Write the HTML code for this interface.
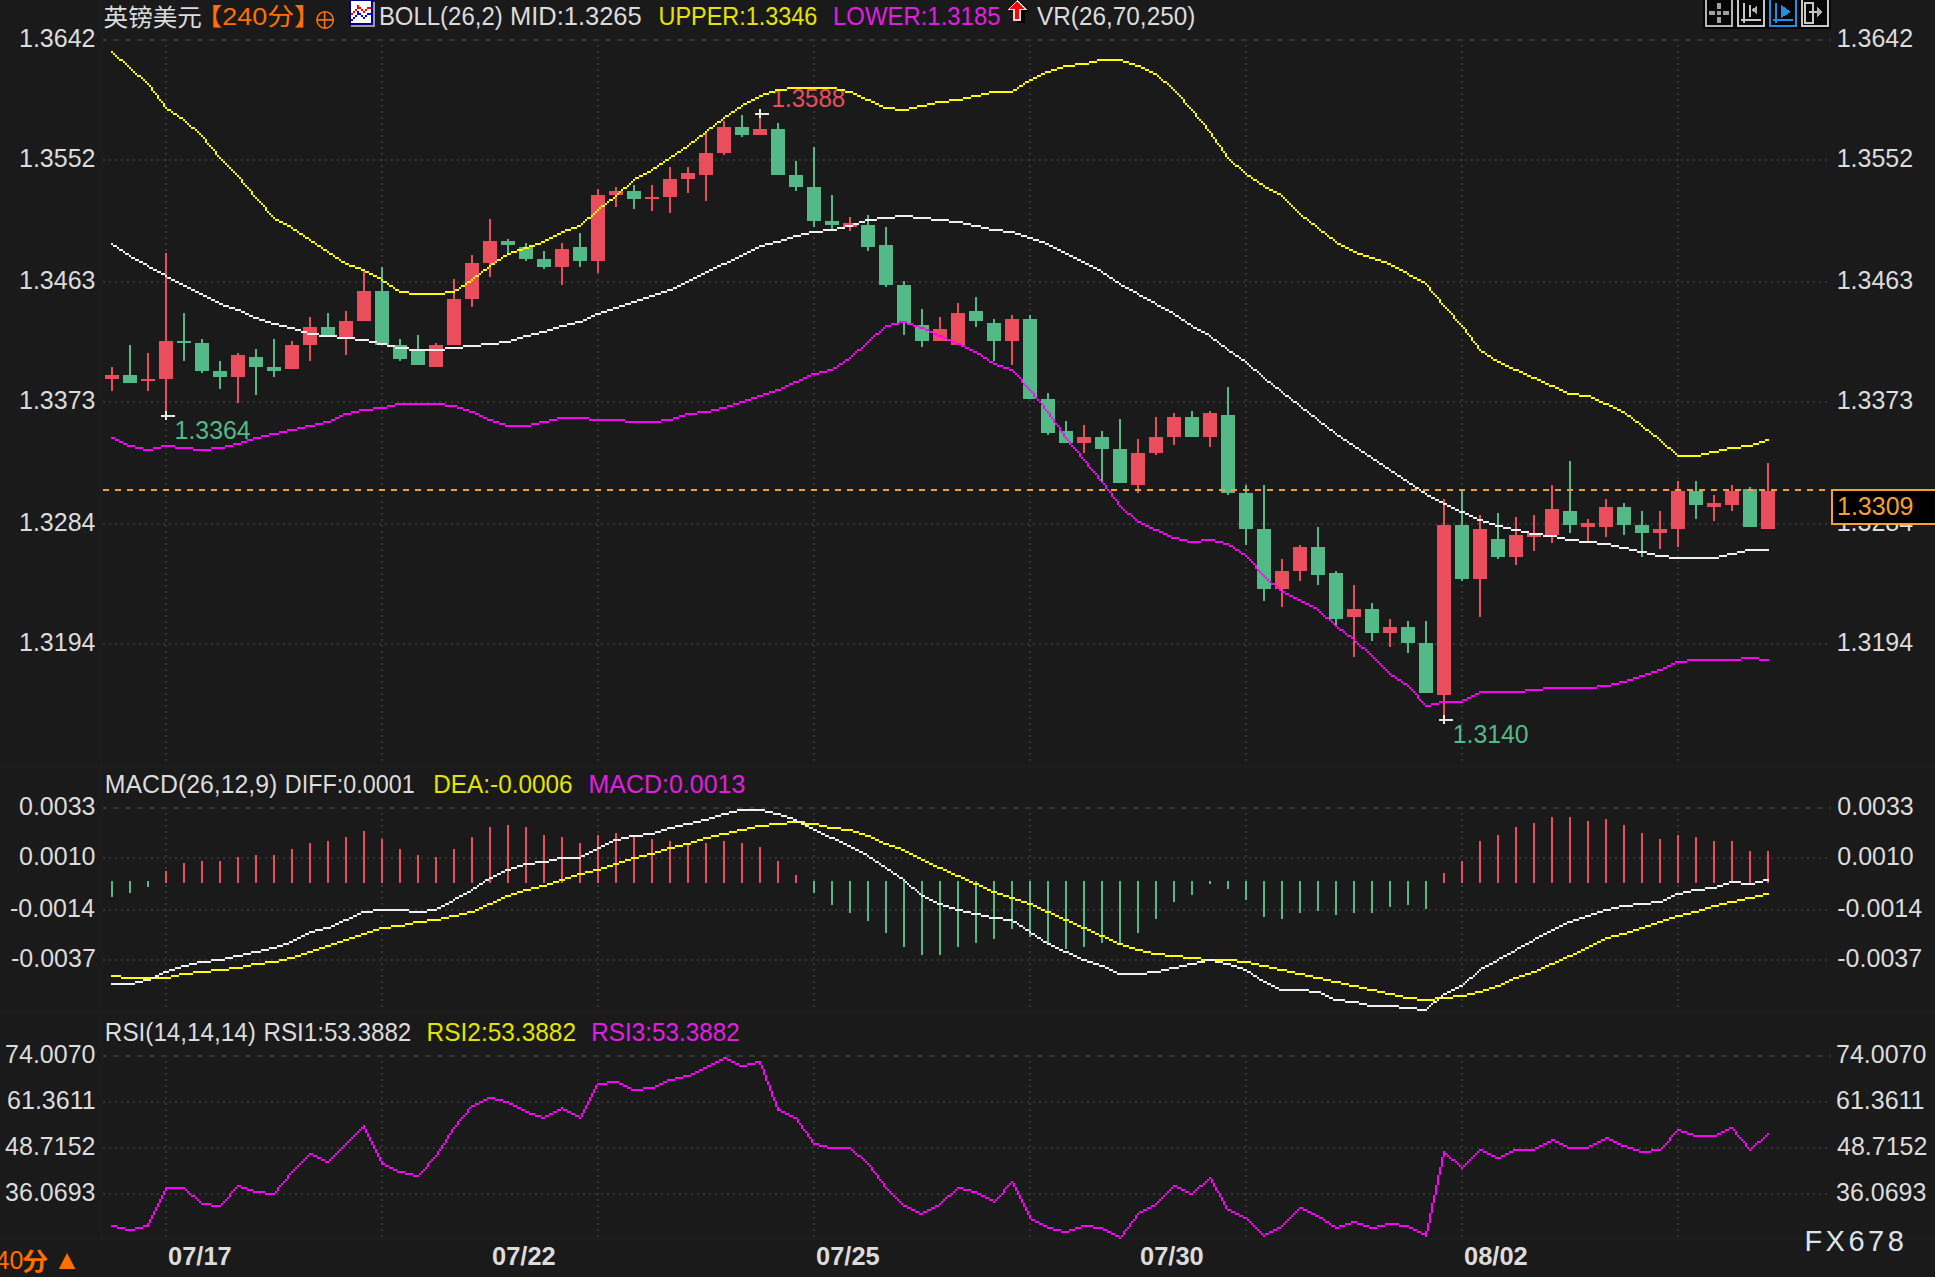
<!DOCTYPE html><html><head><meta charset="utf-8"><title>GBPUSD</title><style>html,body{margin:0;padding:0;background:#1a1a1a;}body{width:1935px;height:1277px;overflow:hidden;position:relative;}svg{position:absolute;left:0;top:0;display:block;}text{font-family:"Liberation Sans","Noto Sans CJK SC",sans-serif;white-space:pre;}</style></head><body>
<svg width="1935" height="1277" viewBox="0 0 1935 1277">
<rect width="1935" height="1277" fill="#1a1a1a"/>
<g fill="#1e1e1e">
<rect x="101" y="0" width="1" height="1239"/>
<rect x="0" y="765" width="1935" height="2"/>
<rect x="0" y="1011" width="1935" height="2"/>
<rect x="0" y="1238" width="1935" height="2"/>
</g>
<g shape-rendering="crispEdges">
<path d="M103 40H1831" stroke="#353535" stroke-width="2" stroke-dasharray="6 6" stroke-dashoffset="2"/>
<path d="M103 160H1831" stroke="#353535" stroke-width="2" stroke-dasharray="2 4"/>
<path d="M103 282H1831" stroke="#353535" stroke-width="2" stroke-dasharray="2 4"/>
<path d="M103 402H1831" stroke="#353535" stroke-width="2" stroke-dasharray="2 4"/>
<path d="M103 524H1831" stroke="#353535" stroke-width="2" stroke-dasharray="2 4"/>
<path d="M103 644H1831" stroke="#353535" stroke-width="2" stroke-dasharray="2 4"/>
<path d="M103 808H1831" stroke="#353535" stroke-width="2" stroke-dasharray="6 6" stroke-dashoffset="2"/>
<path d="M103 858H1831" stroke="#353535" stroke-width="2" stroke-dasharray="2 4"/>
<path d="M103 910H1831" stroke="#353535" stroke-width="2" stroke-dasharray="2 4"/>
<path d="M103 960H1831" stroke="#353535" stroke-width="2" stroke-dasharray="2 4"/>
<path d="M103 1056H1831" stroke="#353535" stroke-width="2" stroke-dasharray="6 6" stroke-dashoffset="2"/>
<path d="M103 1102H1831" stroke="#353535" stroke-width="2" stroke-dasharray="2 4"/>
<path d="M103 1148H1831" stroke="#353535" stroke-width="2" stroke-dasharray="2 4"/>
<path d="M103 1194H1831" stroke="#353535" stroke-width="2" stroke-dasharray="2 4"/>
<path d="M166 45V761" stroke="#353535" stroke-width="2" stroke-dasharray="2 4"/>
<path d="M166 813V1007" stroke="#353535" stroke-width="2" stroke-dasharray="2 4"/>
<path d="M166 1061V1237" stroke="#353535" stroke-width="2" stroke-dasharray="2 4"/>
<path d="M382 45V761" stroke="#353535" stroke-width="2" stroke-dasharray="2 4"/>
<path d="M382 813V1007" stroke="#353535" stroke-width="2" stroke-dasharray="2 4"/>
<path d="M382 1061V1237" stroke="#353535" stroke-width="2" stroke-dasharray="2 4"/>
<path d="M598 45V761" stroke="#353535" stroke-width="2" stroke-dasharray="2 4"/>
<path d="M598 813V1007" stroke="#353535" stroke-width="2" stroke-dasharray="2 4"/>
<path d="M598 1061V1237" stroke="#353535" stroke-width="2" stroke-dasharray="2 4"/>
<path d="M814 45V761" stroke="#353535" stroke-width="2" stroke-dasharray="2 4"/>
<path d="M814 813V1007" stroke="#353535" stroke-width="2" stroke-dasharray="2 4"/>
<path d="M814 1061V1237" stroke="#353535" stroke-width="2" stroke-dasharray="2 4"/>
<path d="M1030 45V761" stroke="#353535" stroke-width="2" stroke-dasharray="2 4"/>
<path d="M1030 813V1007" stroke="#353535" stroke-width="2" stroke-dasharray="2 4"/>
<path d="M1030 1061V1237" stroke="#353535" stroke-width="2" stroke-dasharray="2 4"/>
<path d="M1246 45V761" stroke="#353535" stroke-width="2" stroke-dasharray="2 4"/>
<path d="M1246 813V1007" stroke="#353535" stroke-width="2" stroke-dasharray="2 4"/>
<path d="M1246 1061V1237" stroke="#353535" stroke-width="2" stroke-dasharray="2 4"/>
<path d="M1462 45V761" stroke="#353535" stroke-width="2" stroke-dasharray="2 4"/>
<path d="M1462 813V1007" stroke="#353535" stroke-width="2" stroke-dasharray="2 4"/>
<path d="M1462 1061V1237" stroke="#353535" stroke-width="2" stroke-dasharray="2 4"/>
<path d="M1678 45V761" stroke="#353535" stroke-width="2" stroke-dasharray="2 4"/>
<path d="M1678 813V1007" stroke="#353535" stroke-width="2" stroke-dasharray="2 4"/>
<path d="M1678 1061V1237" stroke="#353535" stroke-width="2" stroke-dasharray="2 4"/>
</g>
<text x="771.57" y="107.00" fill="#ea4e5c" font-size="25" font-weight="normal" textLength="73.68" lengthAdjust="spacingAndGlyphs">1.3588</text>
<text x="174.61" y="439.40" fill="#53b987" font-size="25" font-weight="normal" textLength="76.06" lengthAdjust="spacingAndGlyphs">1.3364</text>
<text x="1452.82" y="742.80" fill="#53b987" font-size="25" font-weight="normal" textLength="75.85" lengthAdjust="spacingAndGlyphs">1.3140</text>
<g shape-rendering="crispEdges">
<rect x="111" y="367" width="2" height="24" fill="#ea4e5c"/>
<rect x="105" y="375" width="14" height="4" fill="#ea4e5c"/>
<rect x="129" y="345" width="2" height="38" fill="#53b987"/>
<rect x="123" y="375" width="14" height="8" fill="#53b987"/>
<rect x="147" y="353" width="2" height="38" fill="#ea4e5c"/>
<rect x="141" y="379" width="14" height="2" fill="#ea4e5c"/>
<rect x="165" y="253" width="2" height="164" fill="#ea4e5c"/>
<rect x="159" y="341" width="14" height="38" fill="#ea4e5c"/>
<rect x="183" y="313" width="2" height="48" fill="#53b987"/>
<rect x="177" y="341" width="14" height="2" fill="#53b987"/>
<rect x="201" y="339" width="2" height="34" fill="#53b987"/>
<rect x="195" y="343" width="14" height="28" fill="#53b987"/>
<rect x="219" y="361" width="2" height="28" fill="#53b987"/>
<rect x="213" y="371" width="14" height="6" fill="#53b987"/>
<rect x="237" y="353" width="2" height="50" fill="#ea4e5c"/>
<rect x="231" y="355" width="14" height="22" fill="#ea4e5c"/>
<rect x="255" y="349" width="2" height="46" fill="#53b987"/>
<rect x="249" y="357" width="14" height="10" fill="#53b987"/>
<rect x="273" y="339" width="2" height="38" fill="#53b987"/>
<rect x="267" y="367" width="14" height="4" fill="#53b987"/>
<rect x="291" y="341" width="2" height="28" fill="#ea4e5c"/>
<rect x="285" y="345" width="14" height="24" fill="#ea4e5c"/>
<rect x="309" y="317" width="2" height="44" fill="#ea4e5c"/>
<rect x="303" y="327" width="14" height="18" fill="#ea4e5c"/>
<rect x="327" y="313" width="2" height="22" fill="#53b987"/>
<rect x="321" y="327" width="14" height="8" fill="#53b987"/>
<rect x="345" y="311" width="2" height="44" fill="#ea4e5c"/>
<rect x="339" y="321" width="14" height="18" fill="#ea4e5c"/>
<rect x="363" y="271" width="2" height="50" fill="#ea4e5c"/>
<rect x="357" y="291" width="14" height="30" fill="#ea4e5c"/>
<rect x="381" y="267" width="2" height="78" fill="#53b987"/>
<rect x="375" y="291" width="14" height="54" fill="#53b987"/>
<rect x="399" y="339" width="2" height="22" fill="#53b987"/>
<rect x="393" y="345" width="14" height="14" fill="#53b987"/>
<rect x="417" y="335" width="2" height="30" fill="#53b987"/>
<rect x="411" y="351" width="14" height="14" fill="#53b987"/>
<rect x="435" y="343" width="2" height="24" fill="#ea4e5c"/>
<rect x="429" y="345" width="14" height="22" fill="#ea4e5c"/>
<rect x="453" y="279" width="2" height="66" fill="#ea4e5c"/>
<rect x="447" y="299" width="14" height="46" fill="#ea4e5c"/>
<rect x="471" y="255" width="2" height="52" fill="#ea4e5c"/>
<rect x="465" y="263" width="14" height="36" fill="#ea4e5c"/>
<rect x="489" y="219" width="2" height="58" fill="#ea4e5c"/>
<rect x="483" y="241" width="14" height="22" fill="#ea4e5c"/>
<rect x="507" y="239" width="2" height="16" fill="#53b987"/>
<rect x="501" y="241" width="14" height="4" fill="#53b987"/>
<rect x="525" y="243" width="2" height="18" fill="#53b987"/>
<rect x="519" y="247" width="14" height="12" fill="#53b987"/>
<rect x="543" y="251" width="2" height="18" fill="#53b987"/>
<rect x="537" y="259" width="14" height="8" fill="#53b987"/>
<rect x="561" y="243" width="2" height="42" fill="#ea4e5c"/>
<rect x="555" y="249" width="14" height="18" fill="#ea4e5c"/>
<rect x="579" y="233" width="2" height="34" fill="#53b987"/>
<rect x="573" y="247" width="14" height="14" fill="#53b987"/>
<rect x="597" y="189" width="2" height="84" fill="#ea4e5c"/>
<rect x="591" y="195" width="14" height="66" fill="#ea4e5c"/>
<rect x="615" y="187" width="2" height="20" fill="#ea4e5c"/>
<rect x="609" y="191" width="14" height="4" fill="#ea4e5c"/>
<rect x="633" y="185" width="2" height="24" fill="#53b987"/>
<rect x="627" y="191" width="14" height="8" fill="#53b987"/>
<rect x="651" y="185" width="2" height="26" fill="#ea4e5c"/>
<rect x="645" y="197" width="14" height="2" fill="#ea4e5c"/>
<rect x="669" y="167" width="2" height="46" fill="#ea4e5c"/>
<rect x="663" y="179" width="14" height="18" fill="#ea4e5c"/>
<rect x="687" y="167" width="2" height="26" fill="#ea4e5c"/>
<rect x="681" y="173" width="14" height="6" fill="#ea4e5c"/>
<rect x="705" y="131" width="2" height="70" fill="#ea4e5c"/>
<rect x="699" y="153" width="14" height="22" fill="#ea4e5c"/>
<rect x="723" y="121" width="2" height="34" fill="#ea4e5c"/>
<rect x="717" y="127" width="14" height="26" fill="#ea4e5c"/>
<rect x="741" y="115" width="2" height="22" fill="#53b987"/>
<rect x="735" y="127" width="14" height="8" fill="#53b987"/>
<rect x="759" y="113" width="2" height="22" fill="#ea4e5c"/>
<rect x="753" y="129" width="14" height="6" fill="#ea4e5c"/>
<rect x="777" y="123" width="2" height="52" fill="#53b987"/>
<rect x="771" y="129" width="14" height="46" fill="#53b987"/>
<rect x="795" y="161" width="2" height="30" fill="#53b987"/>
<rect x="789" y="175" width="14" height="12" fill="#53b987"/>
<rect x="813" y="147" width="2" height="80" fill="#53b987"/>
<rect x="807" y="187" width="14" height="34" fill="#53b987"/>
<rect x="831" y="195" width="2" height="34" fill="#53b987"/>
<rect x="825" y="221" width="14" height="4" fill="#53b987"/>
<rect x="849" y="217" width="2" height="14" fill="#ea4e5c"/>
<rect x="843" y="223" width="14" height="4" fill="#ea4e5c"/>
<rect x="867" y="215" width="2" height="36" fill="#53b987"/>
<rect x="861" y="225" width="14" height="22" fill="#53b987"/>
<rect x="885" y="227" width="2" height="60" fill="#53b987"/>
<rect x="879" y="245" width="14" height="40" fill="#53b987"/>
<rect x="903" y="281" width="2" height="54" fill="#53b987"/>
<rect x="897" y="285" width="14" height="38" fill="#53b987"/>
<rect x="921" y="309" width="2" height="38" fill="#53b987"/>
<rect x="915" y="325" width="14" height="16" fill="#53b987"/>
<rect x="939" y="317" width="2" height="24" fill="#ea4e5c"/>
<rect x="933" y="329" width="14" height="12" fill="#ea4e5c"/>
<rect x="957" y="303" width="2" height="42" fill="#ea4e5c"/>
<rect x="951" y="313" width="14" height="32" fill="#ea4e5c"/>
<rect x="975" y="297" width="2" height="30" fill="#53b987"/>
<rect x="969" y="311" width="14" height="10" fill="#53b987"/>
<rect x="993" y="319" width="2" height="42" fill="#53b987"/>
<rect x="987" y="323" width="14" height="18" fill="#53b987"/>
<rect x="1011" y="315" width="2" height="50" fill="#ea4e5c"/>
<rect x="1005" y="319" width="14" height="22" fill="#ea4e5c"/>
<rect x="1029" y="315" width="2" height="84" fill="#53b987"/>
<rect x="1023" y="319" width="14" height="80" fill="#53b987"/>
<rect x="1047" y="393" width="2" height="42" fill="#53b987"/>
<rect x="1041" y="399" width="14" height="34" fill="#53b987"/>
<rect x="1065" y="421" width="2" height="22" fill="#53b987"/>
<rect x="1059" y="431" width="14" height="12" fill="#53b987"/>
<rect x="1083" y="425" width="2" height="28" fill="#ea4e5c"/>
<rect x="1077" y="437" width="14" height="6" fill="#ea4e5c"/>
<rect x="1101" y="431" width="2" height="50" fill="#53b987"/>
<rect x="1095" y="437" width="14" height="12" fill="#53b987"/>
<rect x="1119" y="419" width="2" height="64" fill="#53b987"/>
<rect x="1113" y="449" width="14" height="34" fill="#53b987"/>
<rect x="1137" y="439" width="2" height="54" fill="#ea4e5c"/>
<rect x="1131" y="453" width="14" height="32" fill="#ea4e5c"/>
<rect x="1155" y="417" width="2" height="38" fill="#ea4e5c"/>
<rect x="1149" y="437" width="14" height="16" fill="#ea4e5c"/>
<rect x="1173" y="413" width="2" height="32" fill="#ea4e5c"/>
<rect x="1167" y="417" width="14" height="20" fill="#ea4e5c"/>
<rect x="1191" y="411" width="2" height="26" fill="#53b987"/>
<rect x="1185" y="417" width="14" height="20" fill="#53b987"/>
<rect x="1209" y="411" width="2" height="36" fill="#ea4e5c"/>
<rect x="1203" y="413" width="14" height="24" fill="#ea4e5c"/>
<rect x="1227" y="387" width="2" height="108" fill="#53b987"/>
<rect x="1221" y="415" width="14" height="78" fill="#53b987"/>
<rect x="1245" y="485" width="2" height="60" fill="#53b987"/>
<rect x="1239" y="493" width="14" height="36" fill="#53b987"/>
<rect x="1263" y="485" width="2" height="116" fill="#53b987"/>
<rect x="1257" y="529" width="14" height="60" fill="#53b987"/>
<rect x="1281" y="559" width="2" height="48" fill="#ea4e5c"/>
<rect x="1275" y="571" width="14" height="18" fill="#ea4e5c"/>
<rect x="1299" y="545" width="2" height="36" fill="#ea4e5c"/>
<rect x="1293" y="547" width="14" height="24" fill="#ea4e5c"/>
<rect x="1317" y="527" width="2" height="58" fill="#53b987"/>
<rect x="1311" y="547" width="14" height="28" fill="#53b987"/>
<rect x="1335" y="571" width="2" height="54" fill="#53b987"/>
<rect x="1329" y="573" width="14" height="46" fill="#53b987"/>
<rect x="1353" y="585" width="2" height="72" fill="#ea4e5c"/>
<rect x="1347" y="609" width="14" height="8" fill="#ea4e5c"/>
<rect x="1371" y="603" width="2" height="38" fill="#53b987"/>
<rect x="1365" y="609" width="14" height="24" fill="#53b987"/>
<rect x="1389" y="619" width="2" height="28" fill="#ea4e5c"/>
<rect x="1383" y="627" width="14" height="6" fill="#ea4e5c"/>
<rect x="1407" y="621" width="2" height="32" fill="#53b987"/>
<rect x="1401" y="627" width="14" height="16" fill="#53b987"/>
<rect x="1425" y="621" width="2" height="72" fill="#53b987"/>
<rect x="1419" y="643" width="14" height="50" fill="#53b987"/>
<rect x="1443" y="499" width="2" height="218" fill="#ea4e5c"/>
<rect x="1437" y="525" width="14" height="170" fill="#ea4e5c"/>
<rect x="1461" y="491" width="2" height="90" fill="#53b987"/>
<rect x="1455" y="525" width="14" height="54" fill="#53b987"/>
<rect x="1479" y="515" width="2" height="102" fill="#ea4e5c"/>
<rect x="1473" y="529" width="14" height="50" fill="#ea4e5c"/>
<rect x="1497" y="513" width="2" height="46" fill="#53b987"/>
<rect x="1491" y="539" width="14" height="18" fill="#53b987"/>
<rect x="1515" y="517" width="2" height="48" fill="#ea4e5c"/>
<rect x="1509" y="535" width="14" height="22" fill="#ea4e5c"/>
<rect x="1533" y="515" width="2" height="36" fill="#ea4e5c"/>
<rect x="1527" y="533" width="14" height="4" fill="#ea4e5c"/>
<rect x="1551" y="485" width="2" height="58" fill="#ea4e5c"/>
<rect x="1545" y="509" width="14" height="26" fill="#ea4e5c"/>
<rect x="1569" y="461" width="2" height="72" fill="#53b987"/>
<rect x="1563" y="511" width="14" height="14" fill="#53b987"/>
<rect x="1587" y="519" width="2" height="22" fill="#ea4e5c"/>
<rect x="1581" y="523" width="14" height="4" fill="#ea4e5c"/>
<rect x="1605" y="499" width="2" height="38" fill="#ea4e5c"/>
<rect x="1599" y="507" width="14" height="20" fill="#ea4e5c"/>
<rect x="1623" y="503" width="2" height="32" fill="#53b987"/>
<rect x="1617" y="507" width="14" height="18" fill="#53b987"/>
<rect x="1641" y="511" width="2" height="46" fill="#53b987"/>
<rect x="1635" y="525" width="14" height="8" fill="#53b987"/>
<rect x="1659" y="511" width="2" height="38" fill="#ea4e5c"/>
<rect x="1653" y="529" width="14" height="4" fill="#ea4e5c"/>
<rect x="1677" y="481" width="2" height="66" fill="#ea4e5c"/>
<rect x="1671" y="491" width="14" height="38" fill="#ea4e5c"/>
<rect x="1695" y="481" width="2" height="38" fill="#53b987"/>
<rect x="1689" y="491" width="14" height="14" fill="#53b987"/>
<rect x="1713" y="495" width="2" height="26" fill="#ea4e5c"/>
<rect x="1707" y="503" width="14" height="4" fill="#ea4e5c"/>
<rect x="1731" y="485" width="2" height="26" fill="#ea4e5c"/>
<rect x="1725" y="491" width="14" height="14" fill="#ea4e5c"/>
<rect x="1749" y="487" width="2" height="40" fill="#53b987"/>
<rect x="1743" y="489" width="14" height="38" fill="#53b987"/>
<rect x="1767" y="463" width="2" height="66" fill="#ea4e5c"/>
<rect x="1761" y="491" width="14" height="38" fill="#ea4e5c"/>
</g>
<g shape-rendering="crispEdges">
<rect x="755" y="113" width="14" height="2" fill="#e8e8e8"/>
<rect x="759" y="109" width="2" height="9" fill="#e8e8e8"/>
<rect x="161" y="415" width="14" height="2" fill="#e8e8e8"/>
<rect x="165" y="411" width="2" height="9" fill="#e8e8e8"/>
<rect x="1439" y="719" width="14" height="2" fill="#e8e8e8"/>
<rect x="1443" y="715" width="2" height="9" fill="#e8e8e8"/>
</g>
<path d="M111 243h2v2h-2zM113 245h4v2h-4zM117 247h2v2h-2zM119 249h4v2h-4zM123 251h2v2h-2zM125 253h4v2h-4zM129 255h2v2h-2zM131 257h4v2h-4zM135 259h4v2h-4zM139 261h4v2h-4zM143 263h4v2h-4zM147 265h2v2h-2zM149 267h4v2h-4zM153 269h4v2h-4zM157 271h4v2h-4zM161 273h4v2h-4zM165 275h2v2h-2zM167 277h4v2h-4zM171 279h4v2h-4zM175 281h4v2h-4zM179 283h4v2h-4zM183 285h4v2h-4zM187 287h4v2h-4zM191 289h4v2h-4zM195 291h4v2h-4zM199 293h4v2h-4zM203 295h4v2h-4zM207 297h4v2h-4zM211 299h4v2h-4zM215 301h4v2h-4zM219 303h4v2h-4zM223 305h6v2h-6zM229 307h6v2h-6zM235 309h6v2h-6zM241 311h4v2h-4zM245 313h4v2h-4zM249 315h4v2h-4zM253 317h6v2h-6zM259 319h6v2h-6zM265 321h6v2h-6zM271 323h8v2h-8zM279 325h8v2h-8zM287 327h8v2h-8zM295 329h6v2h-6zM301 331h6v2h-6zM307 333h12v2h-12zM319 335h18v2h-18zM337 337h18v2h-18zM355 339h14v2h-14zM369 341h8v2h-8zM377 343h10v2h-10zM387 345h8v2h-8zM395 347h14v2h-14zM409 349h36v2h-36zM445 347h18v2h-18zM463 345h18v2h-18zM481 343h18v2h-18zM499 341h12v2h-12zM511 339h6v2h-6zM517 337h6v2h-6zM523 335h8v2h-8zM531 333h8v2h-8zM539 331h8v2h-8zM547 329h6v2h-6zM553 327h6v2h-6zM559 325h8v2h-8zM567 323h8v2h-8zM575 321h8v2h-8zM583 319h4v2h-4zM587 317h4v2h-4zM591 315h4v2h-4zM595 313h6v2h-6zM601 311h6v2h-6zM607 309h6v2h-6zM613 307h6v2h-6zM619 305h6v2h-6zM625 303h6v2h-6zM631 301h6v2h-6zM637 299h6v2h-6zM643 297h6v2h-6zM649 295h6v2h-6zM655 293h6v2h-6zM661 291h6v2h-6zM667 289h6v2h-6zM673 287h4v2h-4zM677 285h4v2h-4zM681 283h4v2h-4zM685 281h4v2h-4zM689 279h4v2h-4zM693 277h4v2h-4zM697 275h4v2h-4zM701 273h4v2h-4zM705 271h4v2h-4zM709 269h4v2h-4zM713 267h4v2h-4zM717 265h4v2h-4zM721 263h6v2h-6zM727 261h4v2h-4zM731 259h4v2h-4zM735 257h4v2h-4zM739 255h4v2h-4zM743 253h4v2h-4zM747 251h4v2h-4zM751 249h4v2h-4zM755 247h4v2h-4zM759 245h6v2h-6zM765 243h8v2h-8zM773 241h8v2h-8zM781 239h6v2h-6zM787 237h6v2h-6zM793 235h8v2h-8zM801 233h8v2h-8zM809 231h14v2h-14zM823 229h14v2h-14zM837 227h8v2h-8zM845 225h8v2h-8zM853 223h6v2h-6zM859 221h6v2h-6zM865 219h12v2h-12zM877 217h18v2h-18zM895 215h18v2h-18zM913 217h18v2h-18zM931 219h18v2h-18zM949 221h14v2h-14zM963 223h8v2h-8zM971 225h10v2h-10zM981 227h8v2h-8zM989 229h14v2h-14zM1003 231h12v2h-12zM1015 233h6v2h-6zM1021 235h6v2h-6zM1027 237h6v2h-6zM1033 239h6v2h-6zM1039 241h6v2h-6zM1045 243h4v2h-4zM1049 245h4v2h-4zM1053 247h4v2h-4zM1057 249h4v2h-4zM1061 251h4v2h-4zM1065 253h4v2h-4zM1069 255h4v2h-4zM1073 257h4v2h-4zM1077 259h4v2h-4zM1081 261h4v2h-4zM1085 263h4v2h-4zM1089 265h4v2h-4zM1093 267h4v2h-4zM1097 269h4v2h-4zM1101 271h2v2h-2zM1103 273h4v2h-4zM1107 275h2v2h-2zM1109 277h4v2h-4zM1113 279h2v2h-2zM1115 281h4v2h-4zM1119 283h2v2h-2zM1121 285h4v2h-4zM1125 287h4v2h-4zM1129 289h4v2h-4zM1133 291h4v2h-4zM1137 293h2v2h-2zM1139 295h4v2h-4zM1143 297h4v2h-4zM1147 299h4v2h-4zM1151 301h4v2h-4zM1155 303h2v2h-2zM1157 305h4v2h-4zM1161 307h4v2h-4zM1165 309h4v2h-4zM1169 311h4v2h-4zM1173 313h2v2h-2zM1175 315h4v2h-4zM1179 317h2v2h-2zM1181 319h4v2h-4zM1185 321h2v2h-2zM1187 323h4v2h-4zM1191 325h2v2h-2zM1193 327h4v2h-4zM1197 329h4v2h-4zM1201 331h4v2h-4zM1205 333h4v2h-4zM1209 335h2v2h-2zM1211 337h2v2h-2zM1213 339h4v2h-4zM1217 341h2v2h-2zM1219 343h2v2h-2zM1221 345h4v2h-4zM1225 347h2v2h-2zM1227 349h2v2h-2zM1229 351h4v2h-4zM1233 353h2v2h-2zM1235 355h4v2h-4zM1239 357h2v2h-2zM1241 359h4v2h-4zM1245 361h2v2h-2zM1247 363h2v2h-2zM1249 365h2v2h-2zM1251 367h2v2h-2zM1253 369h4v2h-4zM1257 371h2v2h-2zM1259 373h2v2h-2zM1261 375h2v2h-2zM1263 377h2v2h-2zM1265 379h2v2h-2zM1267 381h4v2h-4zM1271 383h2v2h-2zM1273 385h2v2h-2zM1275 387h4v2h-4zM1279 389h2v2h-2zM1281 391h2v2h-2zM1283 393h2v2h-2zM1285 395h4v2h-4zM1289 397h2v2h-2zM1291 399h2v2h-2zM1293 401h4v2h-4zM1297 403h2v2h-2zM1299 405h2v2h-2zM1301 407h2v2h-2zM1303 409h4v2h-4zM1307 411h2v2h-2zM1309 413h2v2h-2zM1311 415h4v2h-4zM1315 417h2v2h-2zM1317 419h2v2h-2zM1319 421h2v2h-2zM1321 423h4v2h-4zM1325 425h2v2h-2zM1327 427h2v2h-2zM1329 429h4v2h-4zM1333 431h2v2h-2zM1335 433h2v2h-2zM1337 435h4v2h-4zM1341 437h2v2h-2zM1343 439h4v2h-4zM1347 441h2v2h-2zM1349 443h4v2h-4zM1353 445h2v2h-2zM1355 447h4v2h-4zM1359 449h2v2h-2zM1361 451h4v2h-4zM1365 453h2v2h-2zM1367 455h4v2h-4zM1371 457h2v2h-2zM1373 459h4v2h-4zM1377 461h2v2h-2zM1379 463h4v2h-4zM1383 465h2v2h-2zM1385 467h4v2h-4zM1389 469h2v2h-2zM1391 471h4v2h-4zM1395 473h2v2h-2zM1397 475h4v2h-4zM1401 477h2v2h-2zM1403 479h4v2h-4zM1407 481h2v2h-2zM1409 483h4v2h-4zM1413 485h2v2h-2zM1415 487h4v2h-4zM1419 489h2v2h-2zM1421 491h4v2h-4zM1425 493h2v2h-2zM1427 495h4v2h-4zM1431 497h4v2h-4zM1435 499h4v2h-4zM1439 501h4v2h-4zM1443 503h4v2h-4zM1447 505h4v2h-4zM1451 507h4v2h-4zM1455 509h4v2h-4zM1459 511h6v2h-6zM1465 513h4v2h-4zM1469 515h4v2h-4zM1473 517h4v2h-4zM1477 519h6v2h-6zM1483 521h6v2h-6zM1489 523h6v2h-6zM1495 525h8v2h-8zM1503 527h8v2h-8zM1511 529h10v2h-10zM1521 531h8v2h-8zM1529 533h14v2h-14zM1543 535h14v2h-14zM1557 537h8v2h-8zM1565 539h14v2h-14zM1579 541h18v2h-18zM1597 543h14v2h-14zM1611 545h8v2h-8zM1619 547h10v2h-10zM1629 549h8v2h-8zM1637 551h10v2h-10zM1647 553h8v2h-8zM1655 555h14v2h-14zM1669 557h50v2h-50zM1719 555h8v2h-8zM1727 553h10v2h-10zM1737 551h8v2h-8zM1745 549h24v2h-24z" fill="#f0f0f0"/>
<path d="M111 51h2v2h-2zM113 53h2v2h-2zM115 55h2v2h-2zM117 57h2v2h-2zM119 59h4v2h-4zM123 61h2v2h-2zM125 63h2v2h-2zM127 65h2v2h-2zM129 67h2v2h-2zM131 69h2v2h-2zM133 71h2v2h-2zM135 73h2v2h-2zM137 75h4v2h-4zM141 77h2v2h-2zM143 79h2v2h-2zM145 81h2v2h-2zM147 83h2v2h-2zM149 85h2v2h-2zM151 87h2v4h-2zM153 91h2v2h-2zM155 93h2v2h-2zM157 95h2v4h-2zM159 99h2v2h-2zM161 101h2v2h-2zM163 103h2v4h-2zM165 107h2v2h-2zM167 109h4v2h-4zM171 111h2v2h-2zM173 113h4v2h-4zM177 115h2v2h-2zM179 117h4v2h-4zM183 119h2v2h-2zM185 121h2v2h-2zM187 123h2v2h-2zM189 125h2v2h-2zM191 127h4v2h-4zM195 129h2v2h-2zM197 131h2v2h-2zM199 133h2v2h-2zM201 135h2v2h-2zM203 137h2v2h-2zM205 139h2v4h-2zM207 143h2v2h-2zM209 145h2v2h-2zM211 147h2v2h-2zM213 149h2v2h-2zM215 151h2v4h-2zM217 155h2v2h-2zM219 157h2v2h-2zM221 159h2v2h-2zM223 161h2v2h-2zM225 163h2v2h-2zM227 165h2v2h-2zM229 167h2v2h-2zM231 169h2v2h-2zM233 171h2v2h-2zM235 173h2v2h-2zM237 175h2v2h-2zM239 177h2v2h-2zM241 179h2v4h-2zM243 183h2v2h-2zM245 185h2v2h-2zM247 187h2v2h-2zM249 189h2v2h-2zM251 191h2v4h-2zM253 195h2v2h-2zM255 197h2v2h-2zM257 199h2v2h-2zM259 201h2v2h-2zM261 203h2v2h-2zM263 205h2v2h-2zM265 207h2v4h-2zM267 211h2v2h-2zM269 213h2v2h-2zM271 215h2v2h-2zM273 217h2v2h-2zM275 219h4v2h-4zM279 221h4v2h-4zM283 223h4v2h-4zM287 225h4v2h-4zM291 227h2v2h-2zM293 229h4v2h-4zM297 231h2v2h-2zM299 233h4v2h-4zM303 235h2v2h-2zM305 237h4v2h-4zM309 239h2v2h-2zM311 241h4v2h-4zM315 243h2v2h-2zM317 245h4v2h-4zM321 247h2v2h-2zM323 249h4v2h-4zM327 251h2v2h-2zM329 253h4v2h-4zM333 255h2v2h-2zM335 257h4v2h-4zM339 259h2v2h-2zM341 261h4v2h-4zM345 263h4v2h-4zM349 265h6v2h-6zM355 267h6v2h-6zM361 269h4v2h-4zM365 271h4v2h-4zM369 273h4v2h-4zM373 275h4v2h-4zM377 277h4v2h-4zM381 279h2v2h-2zM383 281h4v2h-4zM387 283h2v2h-2zM389 285h4v2h-4zM393 287h2v2h-2zM395 289h4v2h-4zM399 291h10v2h-10zM409 293h36v2h-36zM445 291h10v2h-10zM455 289h4v2h-4zM459 287h2v2h-2zM461 285h4v2h-4zM465 283h2v2h-2zM467 281h4v2h-4zM471 279h2v2h-2zM473 277h2v2h-2zM475 275h4v2h-4zM479 273h2v2h-2zM481 271h2v2h-2zM483 269h4v2h-4zM487 267h2v2h-2zM489 265h2v2h-2zM491 263h4v2h-4zM495 261h2v2h-2zM497 259h4v2h-4zM501 257h2v2h-2zM503 255h4v2h-4zM507 253h4v2h-4zM511 251h6v2h-6zM517 249h6v2h-6zM523 247h6v2h-6zM529 245h6v2h-6zM535 243h6v2h-6zM541 241h4v2h-4zM545 239h4v2h-4zM549 237h4v2h-4zM553 235h4v2h-4zM557 233h4v2h-4zM561 231h4v2h-4zM565 229h6v2h-6zM571 227h6v2h-6zM577 225h4v2h-4zM581 223h2v2h-2zM583 221h2v2h-2zM585 219h2v2h-2zM587 217h4v2h-4zM591 215h2v2h-2zM593 213h2v2h-2zM595 211h2v2h-2zM597 209h2v2h-2zM599 207h2v2h-2zM601 205h4v2h-4zM605 203h2v2h-2zM607 201h2v2h-2zM609 199h4v2h-4zM613 197h2v2h-2zM615 195h2v2h-2zM617 193h2v2h-2zM619 191h2v2h-2zM621 189h2v2h-2zM623 187h4v2h-4zM627 185h2v2h-2zM629 183h2v2h-2zM631 181h2v2h-2zM633 179h2v2h-2zM635 177h4v2h-4zM639 175h4v2h-4zM643 173h4v2h-4zM647 171h4v2h-4zM651 169h2v2h-2zM653 167h4v2h-4zM657 165h2v2h-2zM659 163h4v2h-4zM663 161h2v2h-2zM665 159h4v2h-4zM669 157h2v2h-2zM671 155h4v2h-4zM675 153h2v2h-2zM677 151h4v2h-4zM681 149h2v2h-2zM683 147h4v2h-4zM687 145h2v2h-2zM689 143h2v2h-2zM691 141h4v2h-4zM695 139h2v2h-2zM697 137h2v2h-2zM699 135h4v2h-4zM703 133h2v2h-2zM705 131h2v2h-2zM707 129h2v2h-2zM709 127h4v2h-4zM713 125h2v2h-2zM715 123h2v2h-2zM717 121h4v2h-4zM721 119h2v2h-2zM723 117h2v2h-2zM725 115h4v2h-4zM729 113h2v2h-2zM731 111h4v2h-4zM735 109h2v2h-2zM737 107h4v2h-4zM741 105h2v2h-2zM743 103h4v2h-4zM747 101h4v2h-4zM751 99h4v2h-4zM755 97h4v2h-4zM759 95h4v2h-4zM763 93h6v2h-6zM769 91h6v2h-6zM775 89h12v2h-12zM787 87h50v2h-50zM837 89h8v2h-8zM845 91h8v2h-8zM853 93h4v2h-4zM857 95h4v2h-4zM861 97h4v2h-4zM865 99h6v2h-6zM871 101h4v2h-4zM875 103h4v2h-4zM879 105h4v2h-4zM883 107h12v2h-12zM895 109h14v2h-14zM909 107h8v2h-8zM917 105h10v2h-10zM927 103h8v2h-8zM935 101h14v2h-14zM949 99h14v2h-14zM963 97h8v2h-8zM971 95h10v2h-10zM981 93h8v2h-8zM989 91h24v2h-24zM1013 89h4v2h-4zM1017 87h2v2h-2zM1019 85h4v2h-4zM1023 83h2v2h-2zM1025 81h4v2h-4zM1029 79h4v2h-4zM1033 77h4v2h-4zM1037 75h4v2h-4zM1041 73h4v2h-4zM1045 71h6v2h-6zM1051 69h6v2h-6zM1057 67h6v2h-6zM1063 65h12v2h-12zM1075 63h14v2h-14zM1089 61h8v2h-8zM1097 59h26v2h-26zM1123 61h6v2h-6zM1129 63h6v2h-6zM1135 65h6v2h-6zM1141 67h4v2h-4zM1145 69h4v2h-4zM1149 71h4v2h-4zM1153 73h4v2h-4zM1157 75h2v2h-2zM1159 77h2v2h-2zM1161 79h2v2h-2zM1163 81h4v2h-4zM1167 83h2v2h-2zM1169 85h2v2h-2zM1171 87h2v2h-2zM1173 89h2v2h-2zM1175 91h2v2h-2zM1177 93h2v2h-2zM1179 95h2v2h-2zM1181 97h2v2h-2zM1183 99h2v4h-2zM1185 103h2v2h-2zM1187 105h2v2h-2zM1189 107h2v2h-2zM1191 109h2v2h-2zM1193 111h2v2h-2zM1195 113h2v4h-2zM1197 117h2v2h-2zM1199 119h2v2h-2zM1201 121h2v2h-2zM1203 123h2v2h-2zM1205 125h2v4h-2zM1207 129h2v2h-2zM1209 131h2v2h-2zM1211 133h2v4h-2zM1213 137h2v2h-2zM1215 139h2v4h-2zM1217 143h2v2h-2zM1219 145h2v2h-2zM1221 147h2v4h-2zM1223 151h2v2h-2zM1225 153h2v4h-2zM1227 157h2v2h-2zM1229 159h2v2h-2zM1231 161h2v2h-2zM1233 163h2v2h-2zM1235 165h4v2h-4zM1239 167h2v2h-2zM1241 169h2v2h-2zM1243 171h2v2h-2zM1245 173h2v2h-2zM1247 175h4v2h-4zM1251 177h2v2h-2zM1253 179h4v2h-4zM1257 181h2v2h-2zM1259 183h4v2h-4zM1263 185h2v2h-2zM1265 187h4v2h-4zM1269 189h4v2h-4zM1273 191h4v2h-4zM1277 193h4v2h-4zM1281 195h2v2h-2zM1283 197h2v2h-2zM1285 199h2v2h-2zM1287 201h2v2h-2zM1289 203h2v2h-2zM1291 205h2v2h-2zM1293 207h2v2h-2zM1295 209h2v2h-2zM1297 211h2v2h-2zM1299 213h2v2h-2zM1301 215h2v2h-2zM1303 217h4v2h-4zM1307 219h2v2h-2zM1309 221h2v2h-2zM1311 223h4v2h-4zM1315 225h2v2h-2zM1317 227h2v2h-2zM1319 229h2v2h-2zM1321 231h4v2h-4zM1325 233h2v2h-2zM1327 235h2v2h-2zM1329 237h4v2h-4zM1333 239h2v2h-2zM1335 241h2v2h-2zM1337 243h4v2h-4zM1341 245h4v2h-4zM1345 247h4v2h-4zM1349 249h4v2h-4zM1353 251h4v2h-4zM1357 253h6v2h-6zM1363 255h6v2h-6zM1369 257h6v2h-6zM1375 259h6v2h-6zM1381 261h6v2h-6zM1387 263h4v2h-4zM1391 265h4v2h-4zM1395 267h4v2h-4zM1399 269h4v2h-4zM1403 271h4v2h-4zM1407 273h2v2h-2zM1409 275h4v2h-4zM1413 277h4v2h-4zM1417 279h4v2h-4zM1421 281h4v2h-4zM1425 283h2v2h-2zM1427 285h2v2h-2zM1429 287h2v4h-2zM1431 291h2v2h-2zM1433 293h2v2h-2zM1435 295h2v2h-2zM1437 297h2v2h-2zM1439 299h2v4h-2zM1441 303h2v2h-2zM1443 305h2v2h-2zM1445 307h2v2h-2zM1447 309h2v2h-2zM1449 311h2v2h-2zM1451 313h2v2h-2zM1453 315h2v4h-2zM1455 319h2v2h-2zM1457 321h2v2h-2zM1459 323h2v2h-2zM1461 325h2v2h-2zM1463 327h2v2h-2zM1465 329h2v4h-2zM1467 333h2v2h-2zM1469 335h2v2h-2zM1471 337h2v4h-2zM1473 341h2v2h-2zM1475 343h2v2h-2zM1477 345h2v4h-2zM1479 349h2v2h-2zM1481 351h4v2h-4zM1485 353h2v2h-2zM1487 355h4v2h-4zM1491 357h2v2h-2zM1493 359h4v2h-4zM1497 361h4v2h-4zM1501 363h4v2h-4zM1505 365h4v2h-4zM1509 367h4v2h-4zM1513 369h6v2h-6zM1519 371h4v2h-4zM1523 373h4v2h-4zM1527 375h4v2h-4zM1531 377h6v2h-6zM1537 379h4v2h-4zM1541 381h4v2h-4zM1545 383h4v2h-4zM1549 385h6v2h-6zM1555 387h4v2h-4zM1559 389h4v2h-4zM1563 391h4v2h-4zM1567 393h12v2h-12zM1579 395h12v2h-12zM1591 397h4v2h-4zM1595 399h4v2h-4zM1599 401h4v2h-4zM1603 403h6v2h-6zM1609 405h4v2h-4zM1613 407h4v2h-4zM1617 409h4v2h-4zM1621 411h4v2h-4zM1625 413h2v2h-2zM1627 415h4v2h-4zM1631 417h2v2h-2zM1633 419h2v2h-2zM1635 421h4v2h-4zM1639 423h2v2h-2zM1641 425h2v2h-2zM1643 427h2v2h-2zM1645 429h4v2h-4zM1649 431h2v2h-2zM1651 433h2v2h-2zM1653 435h4v2h-4zM1657 437h2v2h-2zM1659 439h2v2h-2zM1661 441h2v2h-2zM1663 443h2v2h-2zM1665 445h2v2h-2zM1667 447h4v2h-4zM1671 449h2v2h-2zM1673 451h2v2h-2zM1675 453h2v2h-2zM1677 455h24v2h-24zM1701 453h8v2h-8zM1709 451h10v2h-10zM1719 449h8v2h-8zM1727 447h14v2h-14zM1741 445h12v2h-12zM1753 443h6v2h-6zM1759 441h6v2h-6zM1765 439h4v2h-4z" fill="#ffff00"/>
<path d="M111 437h4v2h-4zM115 439h4v2h-4zM119 441h4v2h-4zM123 443h4v2h-4zM127 445h8v2h-8zM135 447h8v2h-8zM143 449h10v2h-10zM153 447h8v2h-8zM161 445h14v2h-14zM175 447h18v2h-18zM193 449h18v2h-18zM211 447h14v2h-14zM225 445h8v2h-8zM233 443h8v2h-8zM241 441h6v2h-6zM247 439h6v2h-6zM253 437h8v2h-8zM261 435h8v2h-8zM269 433h10v2h-10zM279 431h8v2h-8zM287 429h10v2h-10zM297 427h8v2h-8zM305 425h10v2h-10zM315 423h8v2h-8zM323 421h8v2h-8zM331 419h4v2h-4zM335 417h4v2h-4zM339 415h4v2h-4zM343 413h8v2h-8zM351 411h8v2h-8zM359 409h14v2h-14zM373 407h14v2h-14zM387 405h8v2h-8zM395 403h50v2h-50zM445 405h12v2h-12zM457 407h6v2h-6zM463 409h6v2h-6zM469 411h6v2h-6zM475 413h4v2h-4zM479 415h4v2h-4zM483 417h4v2h-4zM487 419h6v2h-6zM493 421h6v2h-6zM499 423h6v2h-6zM505 425h26v2h-26zM531 423h8v2h-8zM539 421h10v2h-10zM549 419h8v2h-8zM557 417h32v2h-32zM589 419h36v2h-36zM625 421h36v2h-36zM661 419h12v2h-12zM673 417h6v2h-6zM679 415h6v2h-6zM685 413h12v2h-12zM697 411h14v2h-14zM711 409h8v2h-8zM719 407h8v2h-8zM727 405h6v2h-6zM733 403h6v2h-6zM739 401h6v2h-6zM745 399h6v2h-6zM751 397h6v2h-6zM757 395h6v2h-6zM763 393h6v2h-6zM769 391h6v2h-6zM775 389h6v2h-6zM781 387h4v2h-4zM785 385h4v2h-4zM789 383h4v2h-4zM793 381h6v2h-6zM799 379h4v2h-4zM803 377h4v2h-4zM807 375h4v2h-4zM811 373h8v2h-8zM819 371h8v2h-8zM827 369h6v2h-6zM833 367h4v2h-4zM837 365h2v2h-2zM839 363h4v2h-4zM843 361h2v2h-2zM845 359h4v2h-4zM849 357h2v2h-2zM851 355h2v2h-2zM853 353h2v2h-2zM855 351h2v2h-2zM857 349h4v2h-4zM861 347h2v2h-2zM863 345h2v2h-2zM865 343h2v2h-2zM867 341h2v2h-2zM869 339h2v2h-2zM871 337h2v2h-2zM873 335h2v2h-2zM875 333h4v2h-4zM879 331h2v2h-2zM881 329h2v2h-2zM883 327h2v2h-2zM885 325h6v2h-6zM891 323h8v2h-8zM899 321h8v2h-8zM907 323h6v2h-6zM913 325h6v2h-6zM919 327h6v2h-6zM925 329h4v2h-4zM929 331h4v2h-4zM933 333h4v2h-4zM937 335h6v2h-6zM943 337h4v2h-4zM947 339h4v2h-4zM951 341h4v2h-4zM955 343h6v2h-6zM961 345h4v2h-4zM965 347h4v2h-4zM969 349h4v2h-4zM973 351h4v2h-4zM977 353h4v2h-4zM981 355h2v2h-2zM983 357h4v2h-4zM987 359h2v2h-2zM989 361h4v2h-4zM993 363h4v2h-4zM997 365h6v2h-6zM1003 367h6v2h-6zM1009 369h4v2h-4zM1013 371h2v2h-2zM1015 373h2v2h-2zM1017 375h2v2h-2zM1019 377h2v2h-2zM1021 379h2v4h-2zM1023 383h2v2h-2zM1025 385h2v2h-2zM1027 387h2v2h-2zM1029 389h2v2h-2zM1031 391h2v2h-2zM1033 393h2v4h-2zM1035 397h2v2h-2zM1037 399h2v2h-2zM1039 401h2v2h-2zM1041 403h2v2h-2zM1043 405h2v4h-2zM1045 409h2v2h-2zM1047 411h2v2h-2zM1049 413h2v4h-2zM1051 417h2v2h-2zM1053 419h2v4h-2zM1055 423h2v2h-2zM1057 425h2v2h-2zM1059 427h2v4h-2zM1061 431h2v2h-2zM1063 433h2v4h-2zM1065 437h2v2h-2zM1067 439h2v2h-2zM1069 441h2v4h-2zM1071 445h2v2h-2zM1073 447h2v2h-2zM1075 449h2v2h-2zM1077 451h2v2h-2zM1079 453h2v4h-2zM1081 457h2v2h-2zM1083 459h2v2h-2zM1085 461h2v2h-2zM1087 463h2v4h-2zM1089 467h2v2h-2zM1091 469h2v2h-2zM1093 471h2v2h-2zM1095 473h2v2h-2zM1097 475h2v4h-2zM1099 479h2v2h-2zM1101 481h2v2h-2zM1103 483h2v2h-2zM1105 485h2v4h-2zM1107 489h2v2h-2zM1109 491h2v2h-2zM1111 493h2v4h-2zM1113 497h2v2h-2zM1115 499h2v2h-2zM1117 501h2v4h-2zM1119 505h2v2h-2zM1121 507h2v2h-2zM1123 509h2v2h-2zM1125 511h2v2h-2zM1127 513h4v2h-4zM1131 515h2v2h-2zM1133 517h2v2h-2zM1135 519h2v2h-2zM1137 521h4v2h-4zM1141 523h4v2h-4zM1145 525h4v2h-4zM1149 527h4v2h-4zM1153 529h6v2h-6zM1159 531h4v2h-4zM1163 533h4v2h-4zM1167 535h4v2h-4zM1171 537h8v2h-8zM1179 539h8v2h-8zM1187 541h14v2h-14zM1201 539h14v2h-14zM1215 541h8v2h-8zM1223 543h6v2h-6zM1229 545h4v2h-4zM1233 547h2v2h-2zM1235 549h4v2h-4zM1239 551h2v2h-2zM1241 553h4v2h-4zM1245 555h2v2h-2zM1247 557h2v2h-2zM1249 559h2v2h-2zM1251 561h2v2h-2zM1253 563h2v2h-2zM1255 565h2v4h-2zM1257 569h2v2h-2zM1259 571h2v2h-2zM1261 573h2v2h-2zM1263 575h2v2h-2zM1265 577h2v2h-2zM1267 579h2v2h-2zM1269 581h2v2h-2zM1271 583h4v2h-4zM1275 585h2v2h-2zM1277 587h2v2h-2zM1279 589h2v2h-2zM1281 591h4v2h-4zM1285 593h4v2h-4zM1289 595h4v2h-4zM1293 597h4v2h-4zM1297 599h4v2h-4zM1301 601h4v2h-4zM1305 603h4v2h-4zM1309 605h4v2h-4zM1313 607h4v2h-4zM1317 609h2v2h-2zM1319 611h2v2h-2zM1321 613h2v2h-2zM1323 615h2v2h-2zM1325 617h4v2h-4zM1329 619h2v2h-2zM1331 621h2v2h-2zM1333 623h2v2h-2zM1335 625h2v2h-2zM1337 627h2v2h-2zM1339 629h4v2h-4zM1343 631h2v2h-2zM1345 633h2v2h-2zM1347 635h4v2h-4zM1351 637h2v2h-2zM1353 639h2v2h-2zM1355 641h2v2h-2zM1357 643h2v2h-2zM1359 645h2v2h-2zM1361 647h4v2h-4zM1365 649h2v2h-2zM1367 651h2v2h-2zM1369 653h2v2h-2zM1371 655h2v2h-2zM1373 657h2v2h-2zM1375 659h2v2h-2zM1377 661h2v2h-2zM1379 663h2v2h-2zM1381 665h2v2h-2zM1383 667h2v2h-2zM1385 669h2v2h-2zM1387 671h2v2h-2zM1389 673h2v2h-2zM1391 675h4v2h-4zM1395 677h2v2h-2zM1397 679h4v2h-4zM1401 681h2v2h-2zM1403 683h4v2h-4zM1407 685h2v2h-2zM1409 687h2v2h-2zM1411 689h2v2h-2zM1413 691h2v2h-2zM1415 693h2v2h-2zM1417 695h2v4h-2zM1419 699h2v2h-2zM1421 701h2v2h-2zM1423 703h2v2h-2zM1425 705h6v2h-6zM1431 703h8v2h-8zM1439 701h24v2h-24zM1463 699h4v2h-4zM1467 697h4v2h-4zM1471 695h4v2h-4zM1475 693h4v2h-4zM1479 691h46v2h-46zM1525 689h18v2h-18zM1543 687h54v2h-54zM1597 685h14v2h-14zM1611 683h8v2h-8zM1619 681h8v2h-8zM1627 679h6v2h-6zM1633 677h6v2h-6zM1639 675h6v2h-6zM1645 673h6v2h-6zM1651 671h6v2h-6zM1657 669h6v2h-6zM1663 667h4v2h-4zM1667 665h4v2h-4zM1671 663h4v2h-4zM1675 661h12v2h-12zM1687 659h54v2h-54zM1741 657h18v2h-18zM1759 659h10v2h-10z" fill="#ff00ff"/>
<path d="M103 490H1827" stroke="#f5a030" stroke-width="2" stroke-dasharray="6 6" shape-rendering="crispEdges"/>
<g shape-rendering="crispEdges">
<rect x="111" y="881" width="2" height="16" fill="#53b987"/>
<rect x="129" y="881" width="2" height="12" fill="#53b987"/>
<rect x="147" y="881" width="2" height="6" fill="#53b987"/>
<rect x="165" y="871" width="2" height="12" fill="#ea4e5c"/>
<rect x="183" y="863" width="2" height="20" fill="#ea4e5c"/>
<rect x="201" y="861" width="2" height="22" fill="#ea4e5c"/>
<rect x="219" y="861" width="2" height="22" fill="#ea4e5c"/>
<rect x="237" y="857" width="2" height="26" fill="#ea4e5c"/>
<rect x="255" y="855" width="2" height="28" fill="#ea4e5c"/>
<rect x="273" y="855" width="2" height="28" fill="#ea4e5c"/>
<rect x="291" y="849" width="2" height="34" fill="#ea4e5c"/>
<rect x="309" y="843" width="2" height="40" fill="#ea4e5c"/>
<rect x="327" y="841" width="2" height="42" fill="#ea4e5c"/>
<rect x="345" y="837" width="2" height="46" fill="#ea4e5c"/>
<rect x="363" y="831" width="2" height="52" fill="#ea4e5c"/>
<rect x="381" y="839" width="2" height="44" fill="#ea4e5c"/>
<rect x="399" y="849" width="2" height="34" fill="#ea4e5c"/>
<rect x="417" y="855" width="2" height="28" fill="#ea4e5c"/>
<rect x="435" y="857" width="2" height="26" fill="#ea4e5c"/>
<rect x="453" y="849" width="2" height="34" fill="#ea4e5c"/>
<rect x="471" y="837" width="2" height="46" fill="#ea4e5c"/>
<rect x="489" y="827" width="2" height="56" fill="#ea4e5c"/>
<rect x="507" y="825" width="2" height="58" fill="#ea4e5c"/>
<rect x="525" y="827" width="2" height="56" fill="#ea4e5c"/>
<rect x="543" y="835" width="2" height="48" fill="#ea4e5c"/>
<rect x="561" y="837" width="2" height="46" fill="#ea4e5c"/>
<rect x="579" y="843" width="2" height="40" fill="#ea4e5c"/>
<rect x="597" y="835" width="2" height="48" fill="#ea4e5c"/>
<rect x="615" y="833" width="2" height="50" fill="#ea4e5c"/>
<rect x="633" y="835" width="2" height="48" fill="#ea4e5c"/>
<rect x="651" y="839" width="2" height="44" fill="#ea4e5c"/>
<rect x="669" y="841" width="2" height="42" fill="#ea4e5c"/>
<rect x="687" y="843" width="2" height="40" fill="#ea4e5c"/>
<rect x="705" y="843" width="2" height="40" fill="#ea4e5c"/>
<rect x="723" y="841" width="2" height="42" fill="#ea4e5c"/>
<rect x="741" y="843" width="2" height="40" fill="#ea4e5c"/>
<rect x="759" y="847" width="2" height="36" fill="#ea4e5c"/>
<rect x="777" y="861" width="2" height="22" fill="#ea4e5c"/>
<rect x="795" y="875" width="2" height="8" fill="#ea4e5c"/>
<rect x="813" y="881" width="2" height="12" fill="#53b987"/>
<rect x="831" y="881" width="2" height="24" fill="#53b987"/>
<rect x="849" y="881" width="2" height="32" fill="#53b987"/>
<rect x="867" y="881" width="2" height="40" fill="#53b987"/>
<rect x="885" y="881" width="2" height="52" fill="#53b987"/>
<rect x="903" y="881" width="2" height="66" fill="#53b987"/>
<rect x="921" y="881" width="2" height="74" fill="#53b987"/>
<rect x="939" y="881" width="2" height="74" fill="#53b987"/>
<rect x="957" y="881" width="2" height="66" fill="#53b987"/>
<rect x="975" y="881" width="2" height="62" fill="#53b987"/>
<rect x="993" y="881" width="2" height="58" fill="#53b987"/>
<rect x="1011" y="881" width="2" height="48" fill="#53b987"/>
<rect x="1029" y="881" width="2" height="56" fill="#53b987"/>
<rect x="1047" y="881" width="2" height="64" fill="#53b987"/>
<rect x="1065" y="881" width="2" height="68" fill="#53b987"/>
<rect x="1083" y="881" width="2" height="66" fill="#53b987"/>
<rect x="1101" y="881" width="2" height="62" fill="#53b987"/>
<rect x="1119" y="881" width="2" height="62" fill="#53b987"/>
<rect x="1137" y="881" width="2" height="52" fill="#53b987"/>
<rect x="1155" y="881" width="2" height="38" fill="#53b987"/>
<rect x="1173" y="881" width="2" height="21" fill="#53b987"/>
<rect x="1191" y="881" width="2" height="14" fill="#53b987"/>
<rect x="1209" y="881" width="2" height="3" fill="#53b987"/>
<rect x="1227" y="881" width="2" height="8" fill="#53b987"/>
<rect x="1245" y="881" width="2" height="19" fill="#53b987"/>
<rect x="1263" y="881" width="2" height="36" fill="#53b987"/>
<rect x="1281" y="881" width="2" height="38" fill="#53b987"/>
<rect x="1299" y="881" width="2" height="32" fill="#53b987"/>
<rect x="1317" y="881" width="2" height="30" fill="#53b987"/>
<rect x="1335" y="881" width="2" height="34" fill="#53b987"/>
<rect x="1353" y="881" width="2" height="32" fill="#53b987"/>
<rect x="1371" y="881" width="2" height="32" fill="#53b987"/>
<rect x="1389" y="881" width="2" height="26" fill="#53b987"/>
<rect x="1407" y="881" width="2" height="24" fill="#53b987"/>
<rect x="1425" y="881" width="2" height="28" fill="#53b987"/>
<rect x="1443" y="873" width="2" height="10" fill="#ea4e5c"/>
<rect x="1461" y="861" width="2" height="22" fill="#ea4e5c"/>
<rect x="1479" y="841" width="2" height="42" fill="#ea4e5c"/>
<rect x="1497" y="835" width="2" height="48" fill="#ea4e5c"/>
<rect x="1515" y="827" width="2" height="56" fill="#ea4e5c"/>
<rect x="1533" y="823" width="2" height="60" fill="#ea4e5c"/>
<rect x="1551" y="817" width="2" height="66" fill="#ea4e5c"/>
<rect x="1569" y="817" width="2" height="66" fill="#ea4e5c"/>
<rect x="1587" y="821" width="2" height="62" fill="#ea4e5c"/>
<rect x="1605" y="819" width="2" height="64" fill="#ea4e5c"/>
<rect x="1623" y="825" width="2" height="58" fill="#ea4e5c"/>
<rect x="1641" y="833" width="2" height="50" fill="#ea4e5c"/>
<rect x="1659" y="839" width="2" height="44" fill="#ea4e5c"/>
<rect x="1677" y="835" width="2" height="48" fill="#ea4e5c"/>
<rect x="1695" y="837" width="2" height="46" fill="#ea4e5c"/>
<rect x="1713" y="841" width="2" height="42" fill="#ea4e5c"/>
<rect x="1731" y="841" width="2" height="42" fill="#ea4e5c"/>
<rect x="1749" y="851" width="2" height="32" fill="#ea4e5c"/>
<rect x="1767" y="851" width="2" height="32" fill="#ea4e5c"/>
</g>
<path d="M111 975h10v2h-10zM121 977h50v2h-50zM171 975h8v2h-8zM179 973h14v2h-14zM193 971h18v2h-18zM211 969h18v2h-18zM229 967h14v2h-14zM243 965h8v2h-8zM251 963h14v2h-14zM265 961h14v2h-14zM279 959h8v2h-8zM287 957h8v2h-8zM295 955h6v2h-6zM301 953h6v2h-6zM307 951h6v2h-6zM313 949h6v2h-6zM319 947h6v2h-6zM325 945h6v2h-6zM331 943h6v2h-6zM337 941h6v2h-6zM343 939h6v2h-6zM349 937h6v2h-6zM355 935h6v2h-6zM361 933h6v2h-6zM367 931h6v2h-6zM373 929h6v2h-6zM379 927h12v2h-12zM391 925h14v2h-14zM405 923h8v2h-8zM413 921h14v2h-14zM427 919h14v2h-14zM441 917h8v2h-8zM449 915h10v2h-10zM459 913h8v2h-8zM467 911h8v2h-8zM475 909h4v2h-4zM479 907h4v2h-4zM483 905h4v2h-4zM487 903h6v2h-6zM493 901h4v2h-4zM497 899h4v2h-4zM501 897h4v2h-4zM505 895h6v2h-6zM511 893h6v2h-6zM517 891h6v2h-6zM523 889h8v2h-8zM531 887h8v2h-8zM539 885h8v2h-8zM547 883h6v2h-6zM553 881h6v2h-6zM559 879h6v2h-6zM565 877h6v2h-6zM571 875h6v2h-6zM577 873h8v2h-8zM585 871h8v2h-8zM593 869h8v2h-8zM601 867h6v2h-6zM607 865h6v2h-6zM613 863h6v2h-6zM619 861h6v2h-6zM625 859h6v2h-6zM631 857h8v2h-8zM639 855h8v2h-8zM647 853h8v2h-8zM655 851h6v2h-6zM661 849h6v2h-6zM667 847h8v2h-8zM675 845h8v2h-8zM683 843h8v2h-8zM691 841h6v2h-6zM697 839h6v2h-6zM703 837h8v2h-8zM711 835h8v2h-8zM719 833h10v2h-10zM729 831h8v2h-8zM737 829h10v2h-10zM747 827h8v2h-8zM755 825h14v2h-14zM769 823h18v2h-18zM787 821h18v2h-18zM805 823h14v2h-14zM819 825h8v2h-8zM827 827h14v2h-14zM841 829h12v2h-12zM853 831h6v2h-6zM859 833h6v2h-6zM865 835h6v2h-6zM871 837h4v2h-4zM875 839h4v2h-4zM879 841h4v2h-4zM883 843h6v2h-6zM889 845h6v2h-6zM895 847h6v2h-6zM901 849h4v2h-4zM905 851h4v2h-4zM909 853h4v2h-4zM913 855h4v2h-4zM917 857h4v2h-4zM921 859h4v2h-4zM925 861h4v2h-4zM929 863h4v2h-4zM933 865h4v2h-4zM937 867h6v2h-6zM943 869h4v2h-4zM947 871h4v2h-4zM951 873h4v2h-4zM955 875h6v2h-6zM961 877h4v2h-4zM965 879h4v2h-4zM969 881h4v2h-4zM973 883h6v2h-6zM979 885h4v2h-4zM983 887h4v2h-4zM987 889h4v2h-4zM991 891h6v2h-6zM997 893h6v2h-6zM1003 895h6v2h-6zM1009 897h6v2h-6zM1015 899h6v2h-6zM1021 901h6v2h-6zM1027 903h6v2h-6zM1033 905h4v2h-4zM1037 907h4v2h-4zM1041 909h4v2h-4zM1045 911h6v2h-6zM1051 913h4v2h-4zM1055 915h4v2h-4zM1059 917h4v2h-4zM1063 919h6v2h-6zM1069 921h4v2h-4zM1073 923h4v2h-4zM1077 925h4v2h-4zM1081 927h6v2h-6zM1087 929h4v2h-4zM1091 931h4v2h-4zM1095 933h4v2h-4zM1099 935h6v2h-6zM1105 937h4v2h-4zM1109 939h4v2h-4zM1113 941h4v2h-4zM1117 943h6v2h-6zM1123 945h6v2h-6zM1129 947h6v2h-6zM1135 949h8v2h-8zM1143 951h8v2h-8zM1151 953h14v2h-14zM1165 955h18v2h-18zM1183 957h18v2h-18zM1201 959h36v2h-36zM1237 961h14v2h-14zM1251 963h8v2h-8zM1259 965h10v2h-10zM1269 967h8v2h-8zM1277 969h10v2h-10zM1287 971h8v2h-8zM1295 973h10v2h-10zM1305 975h8v2h-8zM1313 977h10v2h-10zM1323 979h8v2h-8zM1331 981h10v2h-10zM1341 983h8v2h-8zM1349 985h10v2h-10zM1359 987h8v2h-8zM1367 989h10v2h-10zM1377 991h8v2h-8zM1385 993h10v2h-10zM1395 995h8v2h-8zM1403 997h14v2h-14zM1417 999h18v2h-18zM1435 997h18v2h-18zM1453 995h14v2h-14zM1467 993h8v2h-8zM1475 991h8v2h-8zM1483 989h6v2h-6zM1489 987h6v2h-6zM1495 985h6v2h-6zM1501 983h4v2h-4zM1505 981h4v2h-4zM1509 979h4v2h-4zM1513 977h6v2h-6zM1519 975h6v2h-6zM1525 973h6v2h-6zM1531 971h6v2h-6zM1537 969h4v2h-4zM1541 967h4v2h-4zM1545 965h4v2h-4zM1549 963h6v2h-6zM1555 961h4v2h-4zM1559 959h4v2h-4zM1563 957h4v2h-4zM1567 955h6v2h-6zM1573 953h4v2h-4zM1577 951h4v2h-4zM1581 949h4v2h-4zM1585 947h4v2h-4zM1589 945h4v2h-4zM1593 943h4v2h-4zM1597 941h4v2h-4zM1601 939h4v2h-4zM1605 937h6v2h-6zM1611 935h8v2h-8zM1619 933h8v2h-8zM1627 931h6v2h-6zM1633 929h6v2h-6zM1639 927h6v2h-6zM1645 925h6v2h-6zM1651 923h6v2h-6zM1657 921h6v2h-6zM1663 919h6v2h-6zM1669 917h6v2h-6zM1675 915h8v2h-8zM1683 913h8v2h-8zM1691 911h8v2h-8zM1699 909h6v2h-6zM1705 907h6v2h-6zM1711 905h8v2h-8zM1719 903h8v2h-8zM1727 901h10v2h-10zM1737 899h8v2h-8zM1745 897h10v2h-10zM1755 895h8v2h-8zM1763 893h6v2h-6z" fill="#ffff00"/>
<path d="M111 983h24v2h-24zM135 981h8v2h-8zM143 979h8v2h-8zM151 977h4v2h-4zM155 975h4v2h-4zM159 973h4v2h-4zM163 971h6v2h-6zM169 969h6v2h-6zM175 967h6v2h-6zM181 965h8v2h-8zM189 963h8v2h-8zM197 961h14v2h-14zM211 959h14v2h-14zM225 957h8v2h-8zM233 955h10v2h-10zM243 953h8v2h-8zM251 951h10v2h-10zM261 949h8v2h-8zM269 947h8v2h-8zM277 945h6v2h-6zM283 943h6v2h-6zM289 941h4v2h-4zM293 939h4v2h-4zM297 937h4v2h-4zM301 935h4v2h-4zM305 933h4v2h-4zM309 931h6v2h-6zM315 929h8v2h-8zM323 927h8v2h-8zM331 925h4v2h-4zM335 923h4v2h-4zM339 921h4v2h-4zM343 919h6v2h-6zM349 917h4v2h-4zM353 915h4v2h-4zM357 913h4v2h-4zM361 911h12v2h-12zM373 909h36v2h-36zM409 911h18v2h-18zM427 909h10v2h-10zM437 907h4v2h-4zM441 905h4v2h-4zM445 903h4v2h-4zM449 901h4v2h-4zM453 899h2v2h-2zM455 897h4v2h-4zM459 895h4v2h-4zM463 893h4v2h-4zM467 891h4v2h-4zM471 889h2v2h-2zM473 887h4v2h-4zM477 885h2v2h-2zM479 883h4v2h-4zM483 881h2v2h-2zM485 879h4v2h-4zM489 877h4v2h-4zM493 875h4v2h-4zM497 873h4v2h-4zM501 871h4v2h-4zM505 869h6v2h-6zM511 867h6v2h-6zM517 865h6v2h-6zM523 863h12v2h-12zM535 861h14v2h-14zM549 859h8v2h-8zM557 857h24v2h-24zM581 855h4v2h-4zM585 853h4v2h-4zM589 851h4v2h-4zM593 849h4v2h-4zM597 847h4v2h-4zM601 845h4v2h-4zM605 843h4v2h-4zM609 841h4v2h-4zM613 839h8v2h-8zM621 837h8v2h-8zM629 835h14v2h-14zM643 833h12v2h-12zM655 831h6v2h-6zM661 829h6v2h-6zM667 827h8v2h-8zM675 825h8v2h-8zM683 823h10v2h-10zM693 821h8v2h-8zM701 819h8v2h-8zM709 817h6v2h-6zM715 815h6v2h-6zM721 813h8v2h-8zM729 811h8v2h-8zM737 809h28v2h-28zM765 811h8v2h-8zM773 813h8v2h-8zM781 815h6v2h-6zM787 817h6v2h-6zM793 819h4v2h-4zM797 821h4v2h-4zM801 823h4v2h-4zM805 825h4v2h-4zM809 827h4v2h-4zM813 829h4v2h-4zM817 831h4v2h-4zM821 833h4v2h-4zM825 835h4v2h-4zM829 837h6v2h-6zM835 839h4v2h-4zM839 841h4v2h-4zM843 843h4v2h-4zM847 845h4v2h-4zM851 847h4v2h-4zM855 849h4v2h-4zM859 851h4v2h-4zM863 853h4v2h-4zM867 855h2v2h-2zM869 857h4v2h-4zM873 859h2v2h-2zM875 861h4v2h-4zM879 863h2v2h-2zM881 865h4v2h-4zM885 867h2v2h-2zM887 869h4v2h-4zM891 871h2v2h-2zM893 873h4v2h-4zM897 875h2v2h-2zM899 877h4v2h-4zM903 879h2v2h-2zM905 881h2v2h-2zM907 883h2v2h-2zM909 885h2v2h-2zM911 887h4v2h-4zM915 889h2v2h-2zM917 891h2v2h-2zM919 893h2v2h-2zM921 895h4v2h-4zM925 897h4v2h-4zM929 899h4v2h-4zM933 901h4v2h-4zM937 903h6v2h-6zM943 905h6v2h-6zM949 907h6v2h-6zM955 909h8v2h-8zM963 911h8v2h-8zM971 913h10v2h-10zM981 915h8v2h-8zM989 917h14v2h-14zM1003 919h10v2h-10zM1013 921h4v2h-4zM1017 923h2v2h-2zM1019 925h4v2h-4zM1023 927h2v2h-2zM1025 929h4v2h-4zM1029 931h2v2h-2zM1031 933h4v2h-4zM1035 935h2v2h-2zM1037 937h4v2h-4zM1041 939h2v2h-2zM1043 941h4v2h-4zM1047 943h4v2h-4zM1051 945h4v2h-4zM1055 947h4v2h-4zM1059 949h4v2h-4zM1063 951h6v2h-6zM1069 953h4v2h-4zM1073 955h4v2h-4zM1077 957h4v2h-4zM1081 959h6v2h-6zM1087 961h6v2h-6zM1093 963h6v2h-6zM1099 965h6v2h-6zM1105 967h4v2h-4zM1109 969h4v2h-4zM1113 971h4v2h-4zM1117 973h30v2h-30zM1147 971h14v2h-14zM1161 969h8v2h-8zM1169 967h10v2h-10zM1179 965h8v2h-8zM1187 963h10v2h-10zM1197 961h8v2h-8zM1205 959h10v2h-10zM1215 961h8v2h-8zM1223 963h8v2h-8zM1231 965h6v2h-6zM1237 967h6v2h-6zM1243 969h4v2h-4zM1247 971h4v2h-4zM1251 973h2v2h-2zM1253 975h4v2h-4zM1257 977h2v2h-2zM1259 979h4v2h-4zM1263 981h4v2h-4zM1267 983h4v2h-4zM1271 985h4v2h-4zM1275 987h4v2h-4zM1279 989h30v2h-30zM1309 991h12v2h-12zM1321 993h4v2h-4zM1325 995h4v2h-4zM1329 997h4v2h-4zM1333 999h12v2h-12zM1345 1001h14v2h-14zM1359 1003h8v2h-8zM1367 1005h32v2h-32zM1399 1007h18v2h-18zM1417 1009h10v2h-10zM1427 1007h2v2h-2zM1429 1005h2v2h-2zM1431 1003h2v2h-2zM1433 1001h4v2h-4zM1437 999h2v2h-2zM1439 997h2v2h-2zM1441 995h2v2h-2zM1443 993h4v2h-4zM1447 991h4v2h-4zM1451 989h4v2h-4zM1455 987h4v2h-4zM1459 985h4v2h-4zM1463 983h2v2h-2zM1465 981h2v2h-2zM1467 979h2v2h-2zM1469 977h4v2h-4zM1473 975h2v2h-2zM1475 973h2v2h-2zM1477 971h2v2h-2zM1479 969h2v2h-2zM1481 967h4v2h-4zM1485 965h4v2h-4zM1489 963h4v2h-4zM1493 961h4v2h-4zM1497 959h2v2h-2zM1499 957h4v2h-4zM1503 955h4v2h-4zM1507 953h4v2h-4zM1511 951h4v2h-4zM1515 949h2v2h-2zM1517 947h4v2h-4zM1521 945h4v2h-4zM1525 943h4v2h-4zM1529 941h4v2h-4zM1533 939h2v2h-2zM1535 937h4v2h-4zM1539 935h4v2h-4zM1543 933h4v2h-4zM1547 931h4v2h-4zM1551 929h4v2h-4zM1555 927h4v2h-4zM1559 925h4v2h-4zM1563 923h4v2h-4zM1567 921h6v2h-6zM1573 919h6v2h-6zM1579 917h6v2h-6zM1585 915h6v2h-6zM1591 913h6v2h-6zM1597 911h6v2h-6zM1603 909h8v2h-8zM1611 907h8v2h-8zM1619 905h14v2h-14zM1633 903h18v2h-18zM1651 901h12v2h-12zM1663 899h4v2h-4zM1667 897h4v2h-4zM1671 895h4v2h-4zM1675 893h8v2h-8zM1683 891h8v2h-8zM1691 889h14v2h-14zM1705 887h12v2h-12zM1717 885h6v2h-6zM1723 883h6v2h-6zM1729 881h12v2h-12zM1741 883h14v2h-14zM1755 881h8v2h-8zM1763 879h6v2h-6z" fill="#f0f0f0"/>
<path d="M111 1225h6v2h-6zM117 1227h8v2h-8zM125 1229h10v2h-10zM135 1227h8v2h-8zM143 1225h6v2h-6zM147 1223h2v2h-2zM149 1219h2v4h-2zM151 1215h2v4h-2zM153 1211h2v4h-2zM155 1207h2v4h-2zM157 1203h2v4h-2zM159 1199h2v4h-2zM161 1195h2v4h-2zM163 1191h2v4h-2zM165 1187h20v2h-20zM165 1189h2v2h-2zM185 1189h2v2h-2zM187 1191h2v2h-2zM189 1193h2v2h-2zM191 1195h4v2h-4zM195 1197h2v2h-2zM197 1199h2v2h-2zM199 1201h2v2h-2zM201 1203h10v2h-10zM211 1205h10v2h-10zM221 1203h2v2h-2zM223 1201h2v2h-2zM225 1199h2v2h-2zM227 1197h2v2h-2zM229 1193h2v4h-2zM231 1191h2v2h-2zM233 1189h2v2h-2zM235 1187h2v2h-2zM237 1185h4v2h-4zM241 1187h6v2h-6zM247 1189h6v2h-6zM253 1191h12v2h-12zM265 1193h10v2h-10zM275 1191h2v2h-2zM277 1187h2v4h-2zM279 1185h2v2h-2zM281 1183h2v2h-2zM283 1181h2v2h-2zM285 1179h2v2h-2zM287 1175h2v4h-2zM289 1173h2v2h-2zM291 1171h2v2h-2zM293 1169h2v2h-2zM295 1167h2v2h-2zM297 1165h2v2h-2zM299 1163h2v2h-2zM301 1161h2v2h-2zM303 1159h2v2h-2zM305 1157h2v2h-2zM307 1155h2v2h-2zM309 1153h4v2h-4zM313 1155h4v2h-4zM317 1157h4v2h-4zM321 1159h4v2h-4zM325 1161h4v2h-4zM329 1159h2v2h-2zM331 1157h2v2h-2zM333 1155h2v2h-2zM335 1153h2v2h-2zM337 1151h2v2h-2zM339 1149h2v2h-2zM341 1147h2v2h-2zM343 1145h2v2h-2zM345 1143h2v2h-2zM347 1141h2v2h-2zM349 1139h2v2h-2zM351 1137h2v2h-2zM353 1135h2v2h-2zM355 1133h2v2h-2zM357 1131h2v2h-2zM359 1129h2v2h-2zM361 1127h4v2h-4zM363 1125h2v2h-2zM365 1129h2v4h-2zM367 1133h2v4h-2zM369 1137h2v4h-2zM371 1141h2v4h-2zM373 1145h2v4h-2zM375 1149h2v4h-2zM377 1153h2v4h-2zM379 1157h2v4h-2zM381 1161h2v2h-2zM381 1163h4v2h-4zM385 1165h4v2h-4zM389 1167h4v2h-4zM393 1169h4v2h-4zM397 1171h8v2h-8zM405 1173h8v2h-8zM413 1175h6v2h-6zM419 1173h2v2h-2zM421 1171h2v2h-2zM423 1169h2v2h-2zM425 1167h2v2h-2zM427 1163h2v4h-2zM429 1161h2v2h-2zM431 1159h2v2h-2zM433 1157h2v2h-2zM435 1155h2v2h-2zM437 1151h2v4h-2zM439 1149h2v2h-2zM441 1145h2v4h-2zM443 1143h2v2h-2zM445 1139h2v4h-2zM447 1135h2v4h-2zM449 1133h2v2h-2zM451 1129h2v4h-2zM453 1127h2v2h-2zM455 1125h2v2h-2zM457 1121h2v4h-2zM459 1119h2v2h-2zM461 1117h2v2h-2zM463 1115h2v2h-2zM465 1113h2v2h-2zM467 1109h2v4h-2zM469 1107h2v2h-2zM471 1105h4v2h-4zM475 1103h4v2h-4zM479 1101h4v2h-4zM483 1099h4v2h-4zM487 1097h8v2h-8zM495 1099h8v2h-8zM503 1101h6v2h-6zM509 1103h4v2h-4zM513 1105h4v2h-4zM517 1107h4v2h-4zM521 1109h4v2h-4zM525 1111h4v2h-4zM529 1113h6v2h-6zM535 1115h6v2h-6zM541 1117h4v2h-4zM545 1115h4v2h-4zM549 1113h4v2h-4zM553 1111h4v2h-4zM557 1109h4v2h-4zM561 1107h2v2h-2zM563 1109h4v2h-4zM567 1111h4v2h-4zM571 1113h4v2h-4zM575 1115h4v2h-4zM579 1117h2v2h-2zM581 1113h2v4h-2zM583 1109h2v4h-2zM585 1105h2v4h-2zM587 1101h2v4h-2zM589 1097h2v4h-2zM591 1093h2v4h-2zM593 1089h2v4h-2zM595 1085h2v4h-2zM597 1083h10v2h-10zM607 1081h12v2h-12zM619 1083h4v2h-4zM623 1085h4v2h-4zM627 1087h4v2h-4zM631 1089h12v2h-12zM643 1087h12v2h-12zM655 1085h4v2h-4zM659 1083h4v2h-4zM663 1081h4v2h-4zM667 1079h8v2h-8zM675 1077h8v2h-8zM683 1075h8v2h-8zM691 1073h4v2h-4zM695 1071h4v2h-4zM699 1069h4v2h-4zM703 1067h4v2h-4zM707 1065h4v2h-4zM711 1063h4v2h-4zM715 1061h4v2h-4zM719 1059h4v2h-4zM723 1057h4v2h-4zM727 1059h4v2h-4zM731 1061h4v2h-4zM735 1063h4v2h-4zM739 1065h8v2h-8zM747 1063h8v2h-8zM755 1061h6v2h-6zM759 1063h2v2h-2zM761 1065h2v4h-2zM763 1069h2v6h-2zM765 1075h2v6h-2zM767 1081h2v4h-2zM769 1085h2v6h-2zM771 1091h2v6h-2zM773 1097h2v4h-2zM775 1101h2v6h-2zM777 1107h2v2h-2zM777 1109h4v2h-4zM781 1111h4v2h-4zM785 1113h4v2h-4zM789 1115h4v2h-4zM793 1117h4v2h-4zM797 1119h2v4h-2zM799 1123h2v2h-2zM801 1125h2v4h-2zM803 1129h2v2h-2zM805 1131h2v2h-2zM807 1133h2v4h-2zM809 1137h2v2h-2zM811 1139h2v4h-2zM813 1143h6v2h-6zM819 1145h8v2h-8zM827 1147h24v2h-24zM851 1149h2v2h-2zM853 1151h2v2h-2zM855 1153h2v2h-2zM857 1155h4v2h-4zM861 1157h2v2h-2zM863 1159h2v2h-2zM865 1161h2v2h-2zM867 1163h2v2h-2zM869 1165h2v2h-2zM871 1167h2v4h-2zM873 1171h2v2h-2zM875 1173h2v2h-2zM877 1175h2v4h-2zM879 1179h2v2h-2zM881 1181h2v2h-2zM883 1183h2v4h-2zM885 1187h2v2h-2zM887 1189h2v2h-2zM889 1191h2v2h-2zM891 1193h2v2h-2zM893 1195h2v2h-2zM895 1197h2v2h-2zM897 1199h2v2h-2zM899 1201h2v2h-2zM901 1203h2v2h-2zM903 1205h4v2h-4zM907 1207h4v2h-4zM911 1209h4v2h-4zM915 1211h4v2h-4zM919 1213h4v2h-4zM923 1211h4v2h-4zM927 1209h4v2h-4zM931 1207h4v2h-4zM935 1205h4v2h-4zM939 1203h2v2h-2zM941 1201h2v2h-2zM943 1199h2v2h-2zM945 1197h2v2h-2zM947 1195h4v2h-4zM951 1193h2v2h-2zM953 1191h2v2h-2zM955 1189h2v2h-2zM957 1187h6v2h-6zM963 1189h8v2h-8zM971 1191h6v2h-6zM977 1193h4v2h-4zM981 1195h4v2h-4zM985 1197h4v2h-4zM989 1199h4v2h-4zM993 1201h2v2h-2zM995 1199h2v2h-2zM997 1197h2v2h-2zM999 1195h2v2h-2zM1001 1193h2v2h-2zM1003 1189h2v4h-2zM1005 1187h2v2h-2zM1007 1185h2v2h-2zM1009 1183h2v2h-2zM1011 1181h2v2h-2zM1013 1183h2v4h-2zM1015 1187h2v4h-2zM1017 1191h2v4h-2zM1019 1195h2v4h-2zM1021 1199h2v4h-2zM1023 1203h2v4h-2zM1025 1207h2v4h-2zM1027 1211h2v4h-2zM1029 1215h2v4h-2zM1031 1219h4v2h-4zM1035 1221h4v2h-4zM1039 1223h4v2h-4zM1043 1225h4v2h-4zM1047 1227h6v2h-6zM1053 1229h8v2h-8zM1061 1231h8v2h-8zM1069 1229h6v2h-6zM1075 1227h6v2h-6zM1081 1225h12v2h-12zM1093 1227h10v2h-10zM1103 1229h4v2h-4zM1107 1231h4v2h-4zM1111 1233h4v2h-4zM1115 1235h4v2h-4zM1119 1237h2v2h-2zM1121 1235h2v2h-2zM1123 1231h2v4h-2zM1125 1229h2v2h-2zM1127 1227h2v2h-2zM1129 1223h2v4h-2zM1131 1221h2v2h-2zM1133 1219h2v2h-2zM1135 1215h2v4h-2zM1137 1213h2v2h-2zM1139 1211h4v2h-4zM1143 1209h4v2h-4zM1147 1207h4v2h-4zM1151 1205h4v2h-4zM1155 1203h2v2h-2zM1157 1201h2v2h-2zM1159 1199h2v2h-2zM1161 1197h2v2h-2zM1163 1195h2v2h-2zM1165 1193h2v2h-2zM1167 1191h2v2h-2zM1169 1189h2v2h-2zM1171 1187h2v2h-2zM1173 1185h4v2h-4zM1177 1187h4v2h-4zM1181 1189h4v2h-4zM1185 1191h4v2h-4zM1189 1193h4v2h-4zM1193 1191h2v2h-2zM1195 1189h2v2h-2zM1197 1187h2v2h-2zM1199 1185h4v2h-4zM1203 1183h2v2h-2zM1205 1181h2v2h-2zM1207 1179h2v2h-2zM1209 1177h2v2h-2zM1211 1179h2v4h-2zM1213 1183h2v4h-2zM1215 1187h2v4h-2zM1217 1191h2v2h-2zM1219 1193h2v4h-2zM1221 1197h2v4h-2zM1223 1201h2v4h-2zM1225 1205h2v4h-2zM1227 1209h4v2h-4zM1231 1211h4v2h-4zM1235 1213h4v2h-4zM1239 1215h4v2h-4zM1243 1217h4v2h-4zM1247 1219h2v2h-2zM1249 1221h2v2h-2zM1251 1223h2v2h-2zM1253 1225h2v2h-2zM1255 1227h2v2h-2zM1257 1229h2v2h-2zM1259 1231h2v2h-2zM1261 1233h2v2h-2zM1263 1235h2v2h-2zM1265 1233h4v2h-4zM1269 1231h4v2h-4zM1273 1229h4v2h-4zM1277 1227h4v2h-4zM1281 1225h2v2h-2zM1283 1223h2v2h-2zM1285 1221h2v2h-2zM1287 1219h2v2h-2zM1289 1217h2v2h-2zM1291 1215h2v2h-2zM1293 1213h2v2h-2zM1295 1211h2v2h-2zM1297 1209h2v2h-2zM1299 1207h4v2h-4zM1303 1209h4v2h-4zM1307 1211h4v2h-4zM1311 1213h4v2h-4zM1315 1215h4v2h-4zM1319 1217h4v2h-4zM1323 1219h2v2h-2zM1325 1221h4v2h-4zM1329 1223h2v2h-2zM1331 1225h4v2h-4zM1335 1227h4v2h-4zM1339 1225h6v2h-6zM1345 1223h6v2h-6zM1351 1221h6v2h-6zM1357 1223h6v2h-6zM1363 1225h6v2h-6zM1369 1227h8v2h-8zM1377 1225h8v2h-8zM1385 1223h14v2h-14zM1399 1225h10v2h-10zM1409 1227h4v2h-4zM1413 1229h4v2h-4zM1417 1231h4v2h-4zM1421 1233h6v2h-6zM1425 1231h2v2h-2zM1425 1235h2v2h-2zM1427 1223h2v8h-2zM1429 1213h2v10h-2zM1431 1203h2v10h-2zM1433 1195h2v8h-2zM1435 1185h2v10h-2zM1437 1175h2v10h-2zM1439 1167h2v8h-2zM1441 1157h2v10h-2zM1443 1151h2v2h-2zM1443 1153h4v2h-4zM1443 1155h2v2h-2zM1447 1155h2v2h-2zM1449 1157h2v2h-2zM1451 1159h4v2h-4zM1455 1161h2v2h-2zM1457 1163h2v2h-2zM1459 1165h2v2h-2zM1461 1167h2v2h-2zM1463 1165h2v2h-2zM1465 1163h2v2h-2zM1467 1161h2v2h-2zM1469 1159h2v2h-2zM1471 1157h2v2h-2zM1473 1155h2v2h-2zM1475 1153h2v2h-2zM1477 1151h2v2h-2zM1479 1149h4v2h-4zM1483 1151h4v2h-4zM1487 1153h4v2h-4zM1491 1155h4v2h-4zM1495 1157h6v2h-6zM1501 1155h4v2h-4zM1505 1153h4v2h-4zM1509 1151h4v2h-4zM1513 1149h22v2h-22zM1535 1147h4v2h-4zM1539 1145h4v2h-4zM1543 1143h4v2h-4zM1547 1141h4v2h-4zM1551 1139h4v2h-4zM1555 1141h4v2h-4zM1559 1143h4v2h-4zM1563 1145h4v2h-4zM1567 1147h22v2h-22zM1589 1145h4v2h-4zM1593 1143h4v2h-4zM1597 1141h4v2h-4zM1601 1139h4v2h-4zM1605 1137h4v2h-4zM1609 1139h4v2h-4zM1613 1141h4v2h-4zM1617 1143h4v2h-4zM1621 1145h6v2h-6zM1627 1147h6v2h-6zM1633 1149h6v2h-6zM1639 1151h12v2h-12zM1651 1149h10v2h-10zM1661 1147h2v2h-2zM1663 1145h2v2h-2zM1665 1143h2v2h-2zM1667 1141h2v2h-2zM1669 1137h2v4h-2zM1671 1135h2v2h-2zM1673 1133h2v2h-2zM1675 1131h2v2h-2zM1677 1129h4v2h-4zM1681 1131h6v2h-6zM1687 1133h6v2h-6zM1693 1135h24v2h-24zM1717 1133h4v2h-4zM1721 1131h4v2h-4zM1725 1129h4v2h-4zM1729 1127h4v2h-4zM1733 1129h2v2h-2zM1735 1131h2v4h-2zM1737 1135h2v2h-2zM1739 1137h2v2h-2zM1741 1139h2v2h-2zM1743 1141h2v2h-2zM1745 1143h2v4h-2zM1747 1147h2v2h-2zM1749 1149h2v2h-2zM1751 1147h2v2h-2zM1753 1145h2v2h-2zM1755 1143h2v2h-2zM1757 1141h4v2h-4zM1761 1139h2v2h-2zM1763 1137h2v2h-2zM1765 1135h2v2h-2zM1767 1133h2v2h-2z" fill="#ff00ff"/>
<g fill="none" stroke="#ff7000" stroke-width="1.6"><circle cx="325.1" cy="19.9" r="8.2"/><path d="M317 19.9H333.2M324.6 11.7V28.1"/></g>
<g shape-rendering="crispEdges"><rect x="351" y="2" width="24" height="25" fill="#9a9a9a"/><rect x="349" y="0" width="24" height="25" fill="#000080"/><rect x="351" y="1" width="20" height="22" fill="#ffffff"/></g>
<path d="M351 13h2v2h-2zM353 11h2v2h-2zM355 9h2v2h-2zM357 5h2v4h-2zM359 7h2v2h-2zM361 9h2v2h-2zM363 11h2v2h-2zM365 9h2v2h-2zM367 7h4v2h-4z" fill="#ff0000" shape-rendering="crispEdges"/>
<path d="M351 19h2v2h-2zM353 17h2v2h-2zM355 15h2v2h-2zM357 11h2v4h-2zM359 13h2v2h-2zM361 15h2v2h-2zM363 17h2v2h-2zM365 15h2v2h-2zM367 13h4v2h-4z" fill="#0000ff" shape-rendering="crispEdges"/>
<g shape-rendering="crispEdges"><path d="M1019 2L1029 12H1025V23H1017V12H1011Z" fill="#000"/><path d="M1017 0L1027 10H1021V21H1013V10H1007Z" fill="#d8d8d8"/><path d="M1017 2L1025 9H1019V19H1015V9H1009Z" fill="#ff0000"/></g>
<g shape-rendering="crispEdges">
<rect x="1703" y="0" width="128" height="29" fill="#060606"/>
<rect x="1706" y="-1" width="26" height="27" fill="none" stroke="#b4b4b4" stroke-width="2"/>
<rect x="1738" y="-1" width="26" height="27" fill="none" stroke="#c8c8c8" stroke-width="2"/>
<rect x="1770" y="-1" width="26" height="27" fill="none" stroke="#1e90e6" stroke-width="2"/>
<rect x="1802" y="-1" width="26" height="27" fill="none" stroke="#c8c8c8" stroke-width="2"/>
<rect x="1717" y="3" width="4" height="6" fill="#a0a0a0"/>
<rect x="1709" y="11" width="6" height="4" fill="#a0a0a0"/>
<rect x="1717" y="11" width="4" height="4" fill="#a0a0a0"/>
<rect x="1723" y="11" width="6" height="4" fill="#a0a0a0"/>
<rect x="1717" y="17" width="4" height="6" fill="#a0a0a0"/>
<rect x="1743" y="3" width="2" height="20" fill="#c8c8c8"/><rect x="1741" y="19" width="20" height="2" fill="#c8c8c8"/><rect x="1749" y="5" width="2" height="12" fill="#c8c8c8"/><path d="M1751 10L1757 6V14Z" fill="#b0b0b0"/>
<rect x="1775" y="3" width="2" height="20" fill="#1e90e6"/><rect x="1773" y="19" width="20" height="2" fill="#1e90e6"/><path d="M1781 5L1791 12L1781 18Z" fill="#1e90e6"/>
<rect x="1805" y="3" width="8" height="20" fill="none" stroke="#c8c8c8" stroke-width="2"/><rect x="1809" y="11" width="10" height="2" fill="#c8c8c8"/><path d="M1817 7L1823 12L1817 17Z" fill="#b0b0b0"/>
</g>
<path d="M67.1 1253L75.4 1269H58.8Z" fill="#ff7000"/>
<text x="103.58" y="25.60" fill="#dcdcdc" font-size="24" font-weight="normal" textLength="98.25" lengthAdjust="spacingAndGlyphs">英镑美元</text>
<text x="195.36" y="25.00" fill="#ff7000" font-size="24" font-weight="normal" textLength="125.63" lengthAdjust="spacingAndGlyphs">【240分】</text>
<text x="378.88" y="25.00" fill="#dcdcdc" font-size="25" font-weight="normal" textLength="123.81" lengthAdjust="spacingAndGlyphs">BOLL(26,2)</text>
<text x="509.96" y="25.00" fill="#dcdcdc" font-size="25" font-weight="normal" textLength="131.79" lengthAdjust="spacingAndGlyphs">MID:1.3265</text>
<text x="658.53" y="25.20" fill="#e4e400" font-size="25" font-weight="normal" textLength="158.89" lengthAdjust="spacingAndGlyphs">UPPER:1.3346</text>
<text x="833.09" y="25.20" fill="#e020e0" font-size="25" font-weight="normal" textLength="167.40" lengthAdjust="spacingAndGlyphs">LOWER:1.3185</text>
<text x="1037.00" y="25.00" fill="#dcdcdc" font-size="25" font-weight="normal" textLength="158.37" lengthAdjust="spacingAndGlyphs">VR(26,70,250)</text>
<text x="19.00" y="47.00" fill="#dcdcdc" font-size="25" font-weight="normal">1.3642</text>
<text x="1836.70" y="47.00" fill="#dcdcdc" font-size="25" font-weight="normal">1.3642</text>
<text x="19.00" y="167.00" fill="#dcdcdc" font-size="25" font-weight="normal">1.3552</text>
<text x="1836.70" y="167.00" fill="#dcdcdc" font-size="25" font-weight="normal">1.3552</text>
<text x="19.00" y="289.00" fill="#dcdcdc" font-size="25" font-weight="normal">1.3463</text>
<text x="1836.70" y="289.00" fill="#dcdcdc" font-size="25" font-weight="normal">1.3463</text>
<text x="19.00" y="409.00" fill="#dcdcdc" font-size="25" font-weight="normal">1.3373</text>
<text x="1836.70" y="409.00" fill="#dcdcdc" font-size="25" font-weight="normal">1.3373</text>
<text x="19.00" y="531.00" fill="#dcdcdc" font-size="25" font-weight="normal">1.3284</text>
<text x="1836.70" y="531.00" fill="#dcdcdc" font-size="25" font-weight="normal">1.3284</text>
<text x="19.00" y="651.00" fill="#dcdcdc" font-size="25" font-weight="normal">1.3194</text>
<text x="1836.70" y="651.00" fill="#dcdcdc" font-size="25" font-weight="normal">1.3194</text>
<text x="19.00" y="815.00" fill="#dcdcdc" font-size="25" font-weight="normal">0.0033</text>
<text x="1837.30" y="815.00" fill="#dcdcdc" font-size="25" font-weight="normal">0.0033</text>
<text x="19.00" y="865.00" fill="#dcdcdc" font-size="25" font-weight="normal">0.0010</text>
<text x="1837.30" y="865.00" fill="#dcdcdc" font-size="25" font-weight="normal">0.0010</text>
<text x="10.00" y="917.00" fill="#dcdcdc" font-size="25" font-weight="normal">-0.0014</text>
<text x="1837.30" y="917.00" fill="#dcdcdc" font-size="25" font-weight="normal">-0.0014</text>
<text x="11.00" y="967.00" fill="#dcdcdc" font-size="25" font-weight="normal">-0.0037</text>
<text x="1837.30" y="967.00" fill="#dcdcdc" font-size="25" font-weight="normal">-0.0037</text>
<text x="5.10" y="1063.00" fill="#dcdcdc" font-size="25" font-weight="normal">74.0070</text>
<text x="1836.00" y="1063.00" fill="#dcdcdc" font-size="25" font-weight="normal">74.0070</text>
<text x="7.10" y="1109.00" fill="#dcdcdc" font-size="25" font-weight="normal">61.3611</text>
<text x="1836.00" y="1109.00" fill="#dcdcdc" font-size="25" font-weight="normal">61.3611</text>
<text x="5.10" y="1155.00" fill="#dcdcdc" font-size="25" font-weight="normal">48.7152</text>
<text x="1837.00" y="1155.00" fill="#dcdcdc" font-size="25" font-weight="normal">48.7152</text>
<text x="5.10" y="1201.00" fill="#dcdcdc" font-size="25" font-weight="normal">36.0693</text>
<text x="1836.00" y="1201.00" fill="#dcdcdc" font-size="25" font-weight="normal">36.0693</text>
<text x="104.81" y="793.10" fill="#dcdcdc" font-size="25" font-weight="normal" textLength="172.45" lengthAdjust="spacingAndGlyphs">MACD(26,12,9)</text>
<text x="284.83" y="793.10" fill="#dcdcdc" font-size="25" font-weight="normal" textLength="129.86" lengthAdjust="spacingAndGlyphs">DIFF:0.0001</text>
<text x="433.25" y="793.10" fill="#e4e400" font-size="25" font-weight="normal" textLength="139.38" lengthAdjust="spacingAndGlyphs">DEA:-0.0006</text>
<text x="588.41" y="793.10" fill="#e020e0" font-size="25" font-weight="normal">MACD:0.0013</text>
<text x="104.86" y="1041.10" fill="#dcdcdc" font-size="25" font-weight="normal" textLength="151.03" lengthAdjust="spacingAndGlyphs">RSI(14,14,14)</text>
<text x="263.47" y="1041.10" fill="#dcdcdc" font-size="25" font-weight="normal" textLength="147.81" lengthAdjust="spacingAndGlyphs">RSI1:53.3882</text>
<text x="426.54" y="1041.10" fill="#e4e400" font-size="25" font-weight="normal" textLength="149.54" lengthAdjust="spacingAndGlyphs">RSI2:53.3882</text>
<text x="591.16" y="1041.10" fill="#e020e0" font-size="25" font-weight="normal" textLength="148.62" lengthAdjust="spacingAndGlyphs">RSI3:53.3882</text>
<text x="168.08" y="1265.00" fill="#dcdcdc" font-size="25" font-weight="bold" textLength="63.59" lengthAdjust="spacingAndGlyphs">07/17</text>
<text x="492.08" y="1265.00" fill="#dcdcdc" font-size="25" font-weight="bold" textLength="63.59" lengthAdjust="spacingAndGlyphs">07/22</text>
<text x="816.08" y="1265.00" fill="#dcdcdc" font-size="25" font-weight="bold" textLength="63.59" lengthAdjust="spacingAndGlyphs">07/25</text>
<text x="1140.08" y="1265.00" fill="#dcdcdc" font-size="25" font-weight="bold" textLength="63.59" lengthAdjust="spacingAndGlyphs">07/30</text>
<text x="1464.08" y="1265.00" fill="#dcdcdc" font-size="25" font-weight="bold" textLength="63.59" lengthAdjust="spacingAndGlyphs">08/02</text>
<text x="1804.40" y="1251.10" fill="#dde3ea" font-size="29" font-weight="normal" letter-spacing="3.5">FX678</text>
<text x="-18.30" y="1268.90" fill="#ff7000" font-size="25" font-weight="normal">240</text>
<text x="21.91" y="1269.90" fill="#ff7000" font-size="24" font-weight="bold" textLength="26.18" lengthAdjust="spacingAndGlyphs">分</text>
<rect x="1832" y="490" width="110" height="34" fill="#000" stroke="#f5a030" stroke-width="2" shape-rendering="crispEdges"/>
<text x="1837.00" y="515.00" fill="#f5a030" font-size="25" font-weight="normal">1.3309</text>
</svg></body></html>
